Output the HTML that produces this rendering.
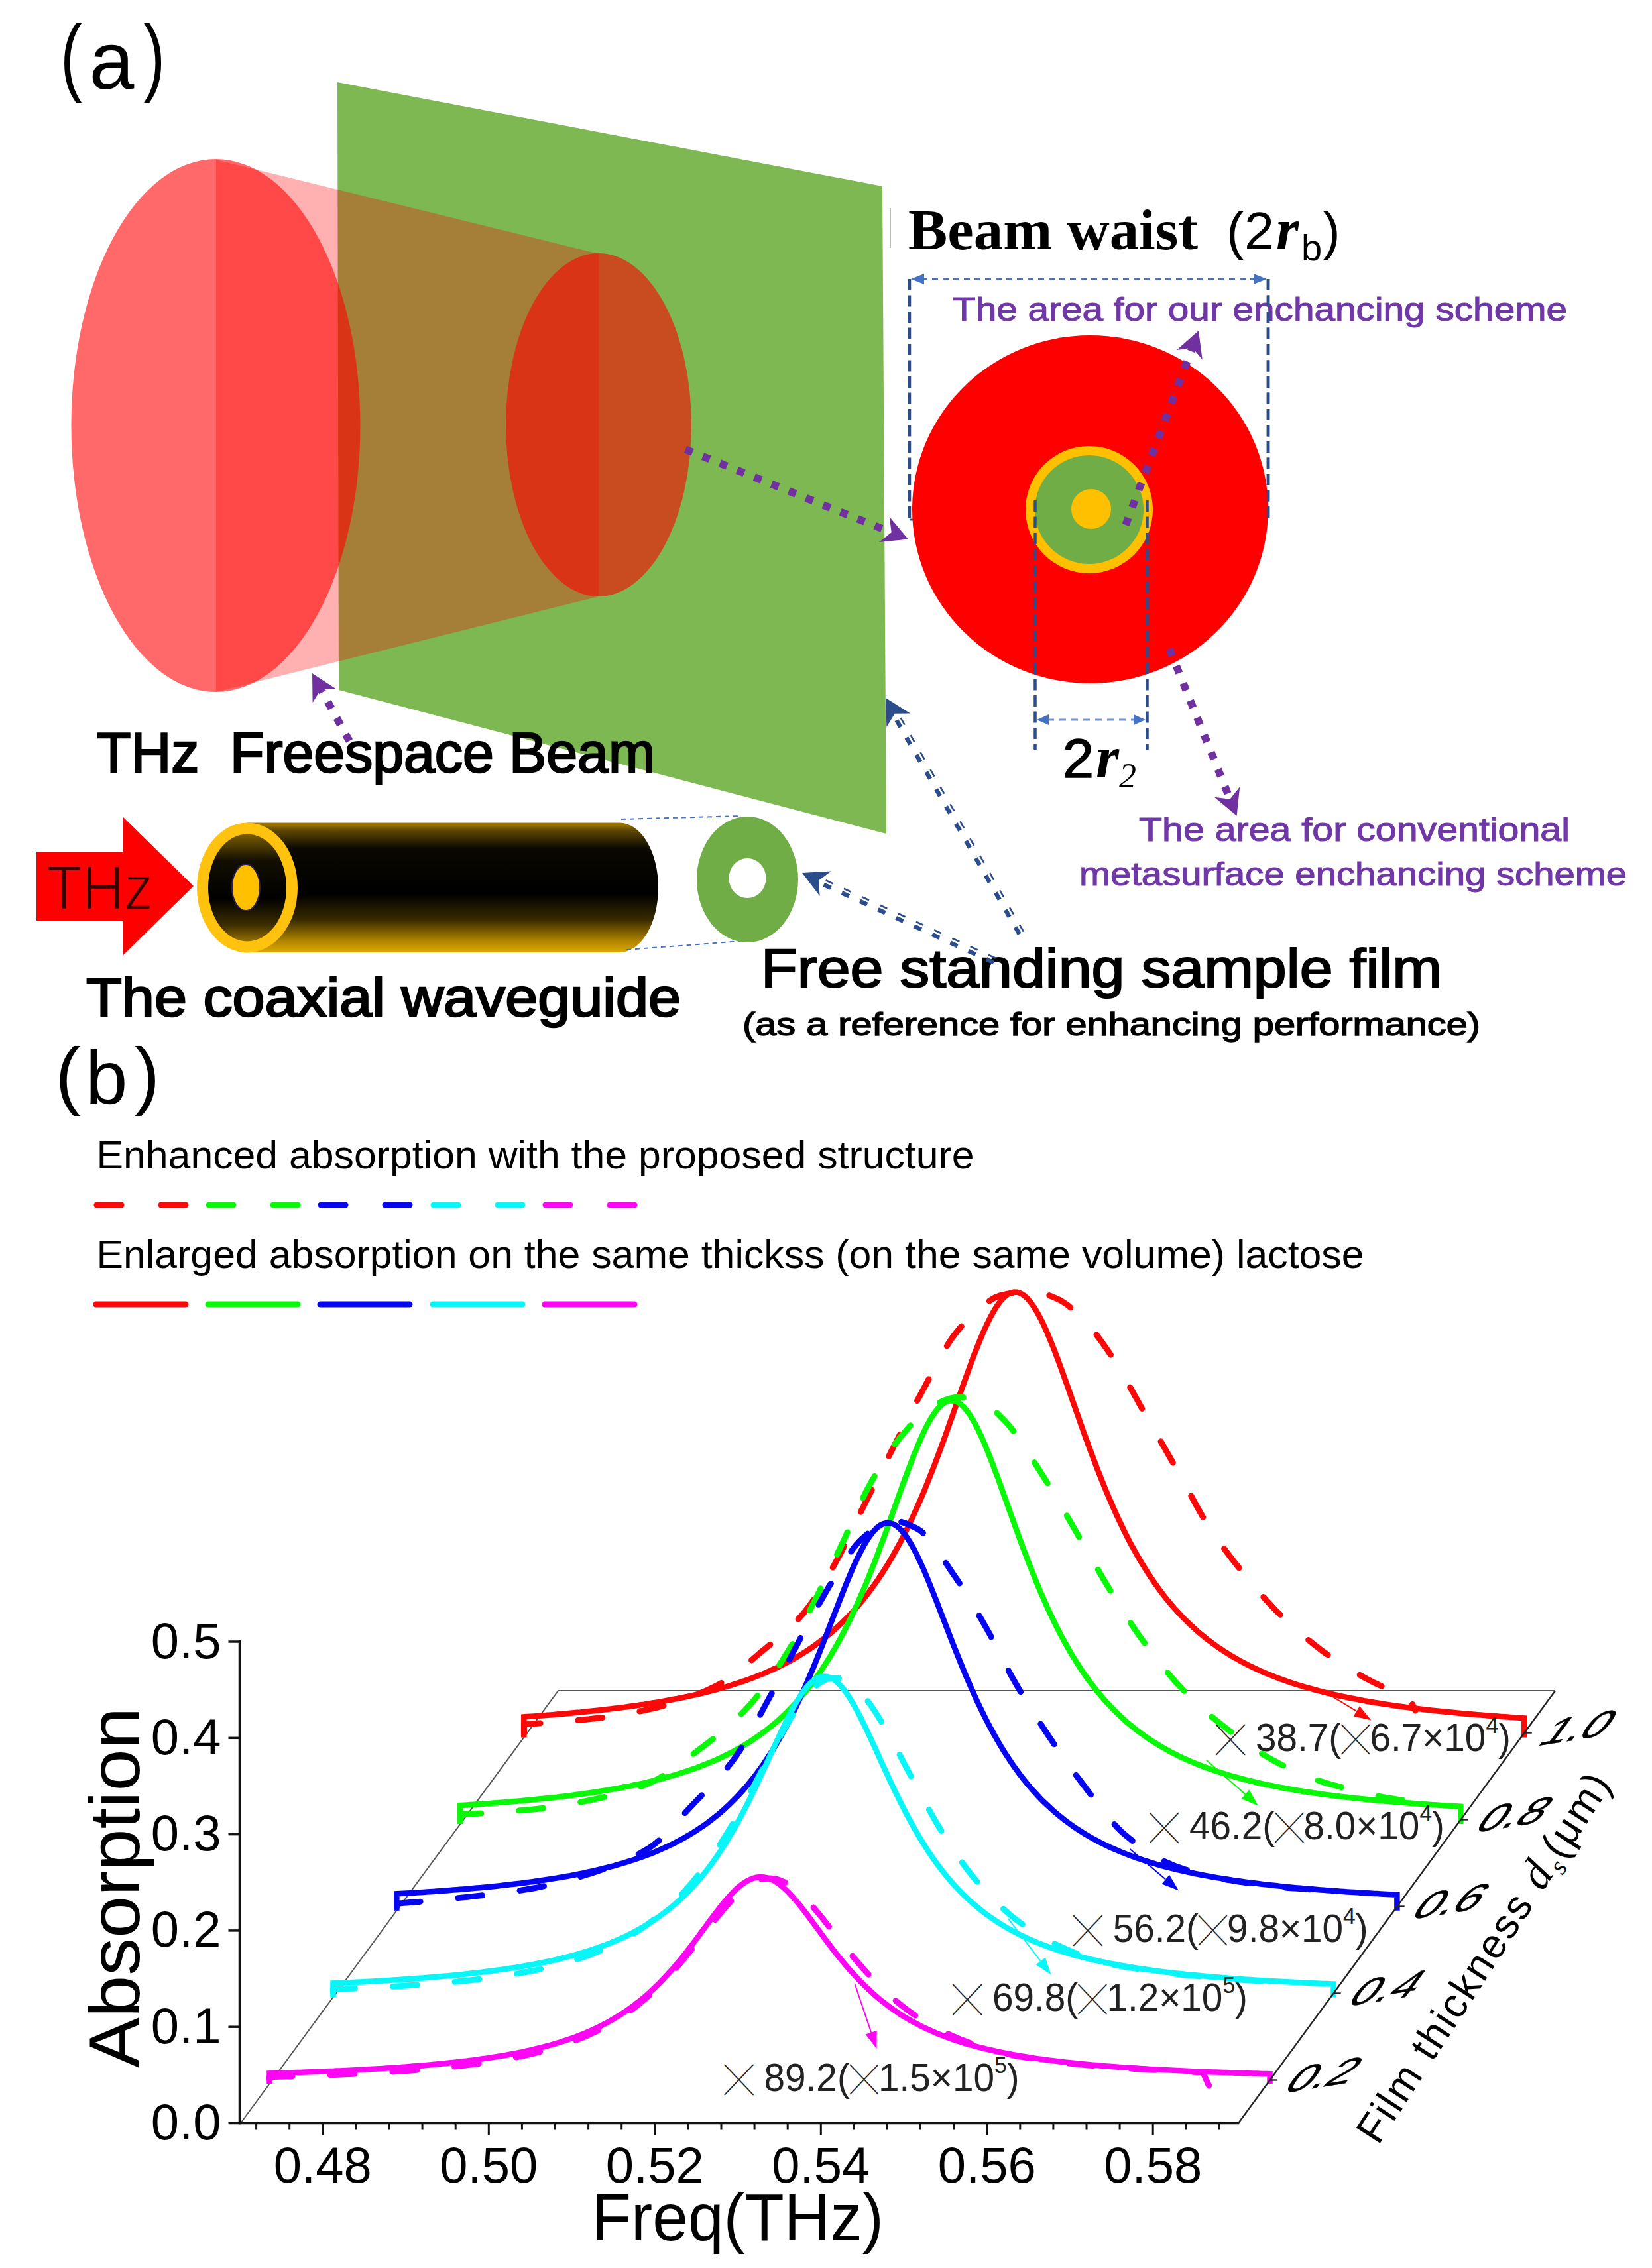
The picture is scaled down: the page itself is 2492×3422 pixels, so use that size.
<!DOCTYPE html>
<html><head><meta charset="utf-8"><title>Figure</title>
<style>html,body{margin:0;padding:0;background:#fff}svg{display:block}</style></head>
<body>
<svg width="2492" height="3422" viewBox="0 0 2492 3422">
<rect width="2492" height="3422" fill="#fff"/>
<defs>
<linearGradient id="cyl" x1="0" y1="0" x2="0" y2="1"><stop offset="0" stop-color="#a88000"/><stop offset="0.06" stop-color="#5e4700"/><stop offset="0.2" stop-color="#0a0800"/><stop offset="0.55" stop-color="#000"/><stop offset="0.75" stop-color="#3a2c00"/><stop offset="0.92" stop-color="#b48800"/><stop offset="1" stop-color="#dcaa00"/></linearGradient>
<linearGradient id="face" x1="0" y1="0" x2="0" y2="1"><stop offset="0" stop-color="#7a5e00"/><stop offset="0.25" stop-color="#120e00"/><stop offset="0.6" stop-color="#000"/><stop offset="0.85" stop-color="#3e2f00"/><stop offset="1" stop-color="#946f00"/></linearGradient>
</defs>
<g id="pa">
<polygon points="509,124 1331,281 1337,1258 511,1041" fill="#7db852"/>
<ellipse cx="325.5" cy="642" rx="218" ry="402" fill="#ff0000" fill-opacity="0.59"/>
<ellipse cx="903" cy="641" rx="140" ry="259" fill="#ff0000" fill-opacity="0.59"/>
<polygon points="326,241 903,383 903,900 326,1044" fill="#ff0000" fill-opacity="0.31"/>
<text transform="translate(91,128) scale(0.86,1.13)" font-size="114" font-family="Liberation Sans, Arial, sans-serif" fill="#000">(</text>
<text x="134.5" y="134" font-size="122" font-family="Liberation Sans, Arial, sans-serif" fill="#000" >a</text>
<text transform="translate(216.5,128) scale(0.86,1.13)" font-size="114" font-family="Liberation Sans, Arial, sans-serif" fill="#000">)</text>
<line x1="1343" y1="314" x2="1343" y2="374" stroke="#bbb" stroke-width="2"/>
<text x="1370" y="375.5" font-size="87" font-family="Liberation Serif, Times New Roman, serif" fill="#000" textLength="437" lengthAdjust="spacingAndGlyphs" font-weight="bold">Beam waist</text>
<text x="1850" y="375.5" font-size="80" font-family="Liberation Sans, Arial, sans-serif" fill="#000" textLength="72" lengthAdjust="spacingAndGlyphs" >(2</text>
<text x="1925" y="375.5" font-size="88" font-family="Liberation Serif, Times New Roman, serif" fill="#000" font-weight="bold" font-style="italic">r</text>
<text x="1963" y="393" font-size="56" font-family="Liberation Sans, Arial, sans-serif" fill="#000" >b</text>
<text x="1995" y="375.5" font-size="80" font-family="Liberation Sans, Arial, sans-serif" fill="#000" >)</text>
<line x1="1372" y1="421" x2="1372" y2="784" stroke="#2b4d8c" stroke-width="4.5" stroke-dasharray="17 7.5"/>
<line x1="1913" y1="421" x2="1913" y2="784" stroke="#2b4d8c" stroke-width="4.5" stroke-dasharray="17 7.5"/>
<line x1="1372" y1="784" x2="1913" y2="784" stroke="#2b4d8c" stroke-width="3" stroke-dasharray="12 7"/>
<line x1="1390" y1="421" x2="1895" y2="421" stroke="#4472c4" stroke-width="2.5" stroke-dasharray="9 7"/>
<polygon points="1374,421 1394,413 1394,429" fill="#4472c4"/>
<polygon points="1911,421 1891,413 1891,429" fill="#4472c4"/>
<text x="1437" y="484" font-size="50" font-family="Liberation Sans, Arial, sans-serif" fill="#7038a6" textLength="927" lengthAdjust="spacingAndGlyphs" stroke="#7038a6" stroke-width="1.1">The area for our enchancing scheme</text>
<ellipse cx="1644.5" cy="768.5" rx="268.5" ry="262.5" fill="#ff0000"/>
<circle cx="1643" cy="769" r="96" fill="#ffc000"/>
<circle cx="1643" cy="769" r="82" fill="#70ad47"/>
<circle cx="1646" cy="768" r="30" fill="#ffc000"/>
<line x1="1913" y1="421" x2="1913" y2="784" stroke="#2b4d8c" stroke-width="4.5" stroke-dasharray="17 7.5"/>
<line x1="1561.5" y1="755" x2="1561.5" y2="1131" stroke="#2b4d8c" stroke-width="4.5" stroke-dasharray="17 7.5"/>
<line x1="1730.5" y1="755" x2="1730.5" y2="1131" stroke="#2b4d8c" stroke-width="4.5" stroke-dasharray="17 7.5"/>
<line x1="1580" y1="1086" x2="1712" y2="1086" stroke="#4472c4" stroke-width="3" stroke-dasharray="10 8" stroke-opacity="0.75"/>
<polygon points="1564,1086 1582,1078 1582,1094" fill="#4472c4"/>
<polygon points="1728,1086 1710,1078 1710,1094" fill="#4472c4"/>
<line x1="1034.0" y1="678.0" x2="1349.6" y2="805.3" stroke="#7030a0" stroke-width="11.5" stroke-dasharray="11.5 16.5"/>
<path d="M1326.2,818.1 L1370.0,813.5 L1341.7,779.8 L1344.7,803.3 Z" fill="#7030a0"/>
<line x1="1698.0" y1="792.0" x2="1800.3" y2="519.6" stroke="#7030a0" stroke-width="11.5" stroke-dasharray="11.5 16.5"/>
<path d="M1813.7,542.6 L1808.0,499.0 L1775.0,528.1 L1798.4,524.5 Z" fill="#7030a0"/>
<line x1="1764.0" y1="979.0" x2="1857.4" y2="1210.6" stroke="#7030a0" stroke-width="11.5" stroke-dasharray="11.5 16.5"/>
<path d="M1831.9,1202.7 L1865.6,1231.0 L1870.2,1187.2 L1855.4,1205.7 Z" fill="#7030a0"/>
<line x1="527.0" y1="1118.0" x2="481.6" y2="1035.3" stroke="#7030a0" stroke-width="11.5" stroke-dasharray="11.5 16.5"/>
<path d="M507.8,1040.1 L471.0,1016.0 L471.6,1060.0 L484.1,1039.9 Z" fill="#7030a0"/>
<text x="1603" y="1173" font-size="84" font-family="Liberation Sans, Arial, sans-serif" fill="#000" textLength="47" lengthAdjust="spacingAndGlyphs" stroke="#000" stroke-width="1.6">2</text>
<text x="1653" y="1173" font-size="90" font-family="Liberation Serif, Times New Roman, serif" fill="#000" font-weight="bold" font-style="italic">r</text>
<text x="1688" y="1187.6" font-size="52" font-family="Liberation Serif, Times New Roman, serif" fill="#000" font-style="italic">2</text>
<text x="1718" y="1269" font-size="50" font-family="Liberation Sans, Arial, sans-serif" fill="#7038a6" textLength="650" lengthAdjust="spacingAndGlyphs" stroke="#7038a6" stroke-width="1.1">The area for conventional</text>
<text x="1628" y="1336" font-size="50" font-family="Liberation Sans, Arial, sans-serif" fill="#7038a6" textLength="826" lengthAdjust="spacingAndGlyphs" stroke="#7038a6" stroke-width="1.1">metasurface enchancing scheme</text>
<text x="146" y="1165" font-size="86" font-family="Liberation Sans, Arial, sans-serif" fill="#000" textLength="842" lengthAdjust="spacingAndGlyphs" stroke="#000" stroke-width="2.6">THz&#160; Freespace Beam</text>
<polygon points="55,1285 186,1285 186,1233 292,1337 186,1441 186,1389 55,1389" fill="#ff0000"/>
<text x="70" y="1371.5" font-size="95" font-family="Liberation Sans, Arial, sans-serif" fill="#380000" textLength="161" lengthAdjust="spacingAndGlyphs" stroke="#ff0000" stroke-width="2.4">THz</text>
<path d="M373,1241.5 L935,1241.5 A58,97.75 0 0 1 935,1437 L373,1437 Z" fill="url(#cyl)"/>
<ellipse cx="373" cy="1339.4" rx="76" ry="98" fill="#ffc20e"/>
<ellipse cx="373" cy="1339.4" rx="59" ry="81" fill="url(#face)"/>
<ellipse cx="371" cy="1339" rx="21" ry="35" fill="#ffc000" stroke="#2a2060" stroke-width="2"/>
<line x1="937" y1="1236" x2="1118" y2="1231" stroke="#4472c4" stroke-width="2" stroke-dasharray="7 6"/>
<line x1="945" y1="1433" x2="1118" y2="1420" stroke="#4472c4" stroke-width="2" stroke-dasharray="7 6"/>
<path fill-rule="evenodd" fill="#70ad47" d="M1051,1327 a76.5,95 0 1 0 153,0 a76.5,95 0 1 0 -153,0 Z M1099.5,1325 a28,30 0 1 0 56,0 a28,30 0 1 0 -56,0 Z"/>
<text x="130" y="1532.5" font-size="82" font-family="Liberation Sans, Arial, sans-serif" fill="#000" textLength="897" lengthAdjust="spacingAndGlyphs" stroke="#000" stroke-width="2.6">The coaxial waveguide</text>
<text x="1148" y="1489" font-size="82" font-family="Liberation Sans, Arial, sans-serif" fill="#000" textLength="1027" lengthAdjust="spacingAndGlyphs" stroke="#000" stroke-width="2.2">Free standing sample film</text>
<text x="1120" y="1561.6" font-size="49" font-family="Liberation Sans, Arial, sans-serif" fill="#000" textLength="1113" lengthAdjust="spacingAndGlyphs" stroke="#000" stroke-width="1.5">(as a reference for enhancing performance)</text>
<line x1="1537.7" y1="1409.3" x2="1344.7" y2="1073.4" stroke="#2b4d8c" stroke-width="6.5" stroke-dasharray="12 18"/>
<line x1="1544.0" y1="1405.7" x2="1350.9" y2="1069.8" stroke="#2b4d8c" stroke-width="2.6" stroke-dasharray="12 18"/>
<path d="M1373.3,1076.4 L1336.0,1053.0 L1337.4,1097.0 L1349.6,1076.7 Z" fill="#2b4d8c"/>
<line x1="1498.9" y1="1452.4" x2="1228.9" y2="1328.5" stroke="#2b4d8c" stroke-width="6.5" stroke-dasharray="12 18"/>
<line x1="1501.9" y1="1445.8" x2="1231.9" y2="1322.0" stroke="#2b4d8c" stroke-width="2.6" stroke-dasharray="12 18"/>
<path d="M1253.9,1314.4 L1210.0,1317.0 L1236.7,1352.0 L1234.8,1328.4 Z" fill="#2b4d8c"/>
</g>
<g id="pb">
<text x="83.5" y="1660" font-size="114" font-family="Liberation Sans, Arial, sans-serif" fill="#000" >(</text>
<text x="129" y="1664.5" font-size="114" font-family="Liberation Sans, Arial, sans-serif" fill="#000" >b</text>
<text x="203" y="1660" font-size="114" font-family="Liberation Sans, Arial, sans-serif" fill="#000" >)</text>
<text x="145.5" y="1763" font-size="60" font-family="Liberation Sans, Arial, sans-serif" fill="#000" textLength="1324" lengthAdjust="spacingAndGlyphs" >Enhanced absorption with the proposed structure</text>
<text x="145.5" y="1913" font-size="60" font-family="Liberation Sans, Arial, sans-serif" fill="#000" textLength="1912" lengthAdjust="spacingAndGlyphs" >Enlarged absorption on the same thickss (on the same volume) lactose</text>
<line x1="146" y1="1818" x2="282" y2="1818" stroke="#fd0808" stroke-width="9" stroke-linecap="round" stroke-dasharray="37 60"/>
<line x1="145" y1="1968" x2="280" y2="1968" stroke="#fd0808" stroke-width="9" stroke-linecap="round"/>
<line x1="315" y1="1818" x2="451" y2="1818" stroke="#08f808" stroke-width="9" stroke-linecap="round" stroke-dasharray="37 60"/>
<line x1="314" y1="1968" x2="449" y2="1968" stroke="#08f808" stroke-width="9" stroke-linecap="round"/>
<line x1="484" y1="1818" x2="620" y2="1818" stroke="#0505f2" stroke-width="9" stroke-linecap="round" stroke-dasharray="37 60"/>
<line x1="483" y1="1968" x2="618" y2="1968" stroke="#0505f2" stroke-width="9" stroke-linecap="round"/>
<line x1="654" y1="1818" x2="790" y2="1818" stroke="#08f6f8" stroke-width="9" stroke-linecap="round" stroke-dasharray="37 60"/>
<line x1="653" y1="1968" x2="788" y2="1968" stroke="#08f6f8" stroke-width="9" stroke-linecap="round"/>
<line x1="823" y1="1818" x2="959" y2="1818" stroke="#fc06f4" stroke-width="9" stroke-linecap="round" stroke-dasharray="37 60"/>
<line x1="822" y1="1968" x2="957" y2="1968" stroke="#fc06f4" stroke-width="9" stroke-linecap="round"/>
<polyline points="364.0,3202.0 842.0,2551.0 2345.0,2551.0" fill="none" stroke="#555" stroke-width="2"/>
<polyline fill="none" stroke="#fd0808" stroke-width="9" stroke-linecap="round" stroke-linejoin="round" stroke-dasharray="37 57" stroke-dashoffset="-8" points="790.3,2621.4 790.5,2601.0 794.9,2600.9 799.4,2600.7 803.8,2600.6 808.3,2600.4 812.7,2600.1 817.2,2599.9 821.6,2599.6 826.1,2599.3 830.5,2599.0 835.0,2598.7 839.4,2598.4 843.9,2598.0 848.3,2597.6 852.8,2597.3 857.2,2596.9 861.7,2596.4 866.1,2596.0 870.6,2595.6 875.0,2595.1 879.5,2594.7 883.9,2594.2 888.4,2593.8 892.8,2593.3 897.3,2592.8 901.7,2592.3 906.2,2591.8 910.6,2591.2 915.1,2590.6 919.5,2590.0 924.0,2589.3 928.4,2588.7 932.8,2588.0 937.3,2587.2 941.7,2586.4 946.2,2585.7 950.6,2584.8 955.1,2584.0 959.5,2583.1 964.0,2582.2 968.4,2581.3 972.9,2580.3 977.3,2579.4 981.8,2578.4 986.2,2577.3 990.7,2576.3 995.1,2575.2 999.6,2574.0 1004.0,2572.8 1008.5,2571.6 1012.9,2570.3 1017.4,2568.9 1021.8,2567.5 1026.3,2566.1 1030.7,2564.5 1035.2,2563.0 1039.6,2561.3 1044.1,2559.6 1048.5,2557.9 1053.0,2556.1 1057.4,2554.2 1061.8,2552.3 1066.3,2550.3 1070.7,2548.3 1075.2,2546.2 1079.6,2544.0 1084.1,2541.7 1088.5,2539.2 1093.0,2536.4 1097.4,2533.5 1101.9,2530.3 1106.3,2527.1 1110.8,2523.7 1115.2,2520.2 1119.7,2516.5 1124.1,2512.9 1128.6,2509.1 1133.0,2505.4 1137.5,2501.6 1141.9,2497.8 1146.4,2494.0 1150.8,2490.3 1155.3,2486.7 1159.7,2483.0 1164.2,2479.4 1168.6,2475.7 1173.1,2472.0 1177.5,2468.2 1182.0,2464.4 1186.4,2460.4 1190.8,2456.3 1195.3,2452.0 1199.7,2447.5 1204.2,2442.9 1208.6,2438.0 1213.1,2432.9 1217.5,2427.4 1222.0,2421.4 1226.4,2415.0 1230.9,2408.2 1235.3,2401.1 1239.8,2393.7 1244.2,2386.1 1248.7,2378.4 1253.1,2370.6 1257.6,2362.7 1262.0,2354.7 1266.5,2346.4 1270.9,2337.7 1275.4,2328.8 1279.8,2319.7 1284.3,2310.5 1288.7,2301.2 1293.2,2292.0 1297.6,2282.9 1302.1,2273.9 1306.5,2265.0 1311.0,2256.2 1315.4,2247.4 1319.9,2238.5 1324.3,2229.7 1328.7,2220.9 1333.2,2212.1 1337.6,2203.4 1342.1,2194.6 1346.5,2185.9 1351.0,2177.2 1355.4,2168.4 1359.9,2159.7 1364.3,2150.9 1368.8,2142.2 1373.2,2133.5 1377.7,2124.9 1382.1,2116.3 1386.6,2107.9 1391.0,2099.5 1395.5,2091.3 1399.9,2082.9 1404.4,2074.4 1408.8,2066.0 1413.3,2057.5 1417.7,2049.3 1422.2,2041.3 1426.6,2033.6 1431.1,2026.4 1435.5,2019.8 1440.0,2013.8 1444.4,2008.1 1448.9,2002.7 1453.3,1997.6 1457.8,1992.7 1462.2,1988.1 1466.6,1983.8 1471.1,1979.7 1475.5,1976.0 1480.0,1972.4 1484.4,1968.9 1488.9,1965.5 1493.3,1962.3 1497.8,1959.4 1502.2,1957.1 1506.7,1955.4 1511.1,1954.2 1515.6,1953.2 1520.0,1952.2 1524.5,1951.3 1528.9,1950.4 1533.4,1949.7 1537.8,1949.1 1542.3,1948.6 1546.7,1948.3 1551.2,1948.1 1555.6,1948.0 1560.1,1948.3 1564.5,1948.9 1569.0,1949.9 1573.4,1951.2 1577.9,1952.7 1582.3,1954.4 1586.8,1956.2 1591.2,1958.2 1595.6,1960.1 1600.1,1962.3 1604.5,1965.0 1609.0,1968.1 1613.4,1971.6 1617.9,1975.5 1622.3,1979.6 1626.8,1983.9 1631.2,1988.2 1635.7,1992.7 1640.1,1997.4 1644.6,2002.4 1649.0,2007.8 1653.5,2013.4 1657.9,2019.3 1662.4,2025.4 1666.8,2031.6 1671.3,2037.9 1675.7,2044.5 1680.2,2051.3 1684.6,2058.5 1689.1,2065.8 1693.5,2073.4 1698.0,2081.1 1702.4,2089.0 1706.9,2097.0 1711.3,2104.9 1715.8,2112.9 1720.2,2120.9 1724.7,2128.8 1729.1,2136.5 1733.5,2144.2 1738.0,2152.0 1742.4,2159.7 1746.9,2167.5 1751.3,2175.3 1755.8,2183.1 1760.2,2190.9 1764.7,2198.8 1769.1,2206.6 1773.6,2214.5 1778.0,2222.4 1782.5,2230.4 1786.9,2238.6 1791.4,2246.9 1795.8,2255.2 1800.3,2263.5 1804.7,2271.6 1809.2,2279.6 1813.6,2287.3 1818.1,2294.7 1822.5,2301.8 1827.0,2308.6 1831.4,2315.2 1835.9,2321.6 1840.3,2327.9 1844.8,2334.1 1849.2,2340.1 1853.7,2346.0 1858.1,2351.8 1862.5,2357.5 1867.0,2363.1 1871.4,2368.6 1875.9,2374.1 1880.3,2379.5 1884.8,2384.9 1889.2,2390.3 1893.7,2395.5 1898.1,2400.7 1902.6,2405.8 1907.0,2410.9 1911.5,2415.8 1915.9,2420.6 1920.4,2425.4 1924.8,2430.0 1929.3,2434.4 1933.7,2438.8 1938.2,2443.0 1942.6,2447.2 1947.1,2451.3 1951.5,2455.3 1956.0,2459.3 1960.4,2463.2 1964.9,2467.0 1969.3,2470.8 1973.8,2474.5 1978.2,2478.1 1982.7,2481.6 1987.1,2485.1 1991.5,2488.5 1996.0,2491.8 2000.4,2495.0 2004.9,2498.1 2009.3,2501.2 2013.8,2504.2 2018.2,2507.1 2022.7,2509.9 2027.1,2512.8 2031.6,2515.6 2036.0,2518.3 2040.5,2521.0 2044.9,2523.7 2049.4,2526.3 2053.8,2528.8 2058.3,2531.2 2062.7,2533.6 2067.2,2536.0 2071.6,2538.2 2076.1,2540.4 2080.5,2542.5 2085.0,2544.6 2089.4,2546.5 2093.9,2548.4 2098.3,2550.1 2102.8,2551.8 2107.2,2553.4 2111.7,2554.9 2116.1,2556.3 2120.6,2557.7 2125.0,2559.0 2135.0,2581.0"/>
<polyline fill="none" stroke="#fd0808" stroke-width="8.5" stroke-linejoin="miter" points="790.3,2621.4 790.3,2590.5 795.3,2590.1 800.3,2589.7 805.4,2589.4 810.4,2589.0 815.4,2588.6 820.5,2588.2 825.5,2587.8 830.5,2587.4 835.6,2587.0 840.6,2586.6 845.6,2586.1 850.6,2585.7 855.7,2585.3 860.7,2584.8 865.7,2584.3 870.8,2583.8 875.8,2583.4 880.8,2582.8 885.9,2582.3 890.9,2581.8 895.9,2581.3 900.9,2580.7 906.0,2580.2 911.0,2579.6 916.0,2579.0 921.1,2578.4 926.1,2577.8 931.1,2577.2 936.2,2576.5 941.2,2575.9 946.2,2575.2 951.2,2574.5 956.3,2573.8 961.3,2573.1 966.3,2572.3 971.4,2571.6 976.4,2570.8 981.4,2570.0 986.5,2569.2 991.5,2568.4 996.5,2567.5 1001.5,2566.6 1006.6,2565.7 1011.6,2564.8 1016.6,2563.8 1021.7,2562.9 1026.7,2561.9 1031.7,2560.8 1036.8,2559.8 1041.8,2558.7 1046.8,2557.6 1051.8,2556.4 1056.9,2555.2 1061.9,2554.0 1066.9,2552.8 1072.0,2551.5 1077.0,2550.2 1082.0,2548.8 1087.1,2547.4 1092.1,2546.0 1097.1,2544.5 1102.1,2543.0 1107.2,2541.4 1112.2,2539.8 1117.2,2538.1 1122.3,2536.4 1127.3,2534.6 1132.3,2532.8 1137.4,2530.9 1142.4,2528.9 1147.4,2526.9 1152.4,2524.8 1157.5,2522.7 1162.5,2520.4 1167.5,2518.1 1172.6,2515.8 1177.6,2513.3 1182.6,2510.8 1187.7,2508.1 1192.7,2505.4 1197.7,2502.6 1202.7,2499.7 1207.8,2496.6 1212.8,2493.5 1217.8,2490.3 1222.9,2486.9 1227.9,2483.4 1232.9,2479.8 1238.0,2476.0 1243.0,2472.1 1248.0,2468.1 1253.0,2463.9 1258.1,2459.5 1263.1,2455.0 1268.1,2450.3 1273.2,2445.4 1278.2,2440.4 1283.2,2435.1 1288.3,2429.6 1293.3,2423.9 1298.3,2418.0 1303.3,2411.8 1308.4,2405.4 1313.4,2398.8 1318.4,2391.8 1323.5,2384.6 1328.5,2377.1 1333.5,2369.4 1338.6,2361.3 1343.6,2352.9 1348.6,2344.1 1353.6,2335.1 1358.7,2325.7 1363.7,2315.9 1368.7,2305.8 1373.8,2295.3 1378.8,2284.5 1383.8,2273.3 1388.9,2261.7 1393.9,2249.8 1398.9,2237.5 1403.9,2224.9 1409.0,2212.0 1414.0,2198.7 1419.0,2185.2 1424.1,2171.4 1429.1,2157.4 1434.1,2143.2 1439.2,2128.9 1444.2,2114.6 1449.2,2100.2 1454.2,2086.0 1459.3,2071.9 1464.3,2058.1 1469.3,2044.6 1474.4,2031.6 1479.4,2019.2 1484.4,2007.4 1489.5,1996.5 1494.5,1986.4 1499.5,1977.4 1504.5,1969.5 1509.6,1962.8 1514.6,1957.4 1519.6,1953.3 1524.7,1950.7 1529.7,1949.5 1534.7,1949.8 1539.8,1951.5 1544.8,1954.7 1549.8,1959.2 1554.8,1965.1 1559.9,1972.3 1564.9,1980.6 1569.9,1990.0 1575.0,2000.4 1580.0,2011.6 1585.0,2023.7 1590.1,2036.3 1595.1,2049.5 1600.1,2063.1 1605.1,2077.0 1610.2,2091.2 1615.2,2105.5 1620.2,2119.8 1625.3,2134.2 1630.3,2148.4 1635.3,2162.6 1640.4,2176.5 1645.4,2190.2 1650.4,2203.6 1655.4,2216.8 1660.5,2229.6 1665.5,2242.1 1670.5,2254.3 1675.6,2266.0 1680.6,2277.5 1685.6,2288.5 1690.7,2299.2 1695.7,2309.6 1700.7,2319.6 1705.7,2329.2 1710.8,2338.5 1715.8,2347.4 1720.8,2356.0 1725.9,2364.3 1730.9,2372.3 1735.9,2379.9 1741.0,2387.3 1746.0,2394.4 1751.0,2401.2 1756.0,2407.8 1761.1,2414.1 1766.1,2420.2 1771.1,2426.0 1776.2,2431.6 1781.2,2437.1 1786.2,2442.3 1791.3,2447.3 1796.3,2452.1 1801.3,2456.7 1806.3,2461.2 1811.4,2465.5 1816.4,2469.6 1821.4,2473.6 1826.5,2477.4 1831.5,2481.1 1836.5,2484.7 1841.6,2488.1 1846.6,2491.5 1851.6,2494.7 1856.6,2497.8 1861.7,2500.7 1866.7,2503.6 1871.7,2506.4 1876.8,2509.1 1881.8,2511.7 1886.8,2514.2 1891.9,2516.6 1896.9,2519.0 1901.9,2521.3 1906.9,2523.5 1912.0,2525.6 1917.0,2527.6 1922.0,2529.6 1927.1,2531.6 1932.1,2533.4 1937.1,2535.3 1942.2,2537.0 1947.2,2538.7 1952.2,2540.4 1957.2,2542.0 1962.3,2543.5 1967.3,2545.1 1972.3,2546.5 1977.4,2547.9 1982.4,2549.3 1987.4,2550.7 1992.5,2552.0 1997.5,2553.3 2002.5,2554.5 2007.5,2555.7 2012.6,2556.9 2017.6,2558.0 2022.6,2559.1 2027.7,2560.2 2032.7,2561.2 2037.7,2562.2 2042.8,2563.2 2047.8,2564.2 2052.8,2565.1 2057.8,2566.1 2062.9,2567.0 2067.9,2567.8 2072.9,2568.7 2078.0,2569.5 2083.0,2570.3 2088.0,2571.1 2093.1,2571.9 2098.1,2572.6 2103.1,2573.4 2108.1,2574.1 2113.2,2574.8 2118.2,2575.5 2123.2,2576.1 2128.3,2576.8 2133.3,2577.4 2138.3,2578.0 2143.4,2578.6 2148.4,2579.2 2153.4,2579.8 2158.4,2580.4 2163.5,2580.9 2168.5,2581.5 2173.5,2582.0 2178.6,2582.5 2183.6,2583.0 2188.6,2583.5 2193.7,2584.0 2198.7,2584.5 2203.7,2585.0 2208.7,2585.4 2213.8,2585.9 2218.8,2586.3 2223.8,2586.7 2228.9,2587.2 2233.9,2587.6 2238.9,2588.0 2244.0,2588.4 2249.0,2588.8 2254.0,2589.1 2259.0,2589.5 2264.1,2589.9 2269.1,2590.2 2274.1,2590.6 2279.2,2590.9 2284.2,2591.3 2289.2,2591.6 2294.3,2591.9 2299.3,2592.3 2299.3,2621.4"/>
<polyline fill="none" stroke="#08f808" stroke-width="9" stroke-linecap="round" stroke-linejoin="round" stroke-dasharray="37 57" stroke-dashoffset="-8" points="694.3,2752.1 696.0,2737.0 700.8,2736.9 705.6,2736.8 710.4,2736.7 715.2,2736.5 720.0,2736.3 724.8,2736.1 729.6,2735.9 734.4,2735.6 739.2,2735.3 744.0,2735.0 748.8,2734.7 753.6,2734.3 758.4,2734.0 763.2,2733.6 768.0,2733.2 772.8,2732.8 777.6,2732.4 782.4,2732.0 787.2,2731.5 792.0,2731.1 796.8,2730.6 801.6,2730.2 806.4,2729.7 811.2,2729.2 816.0,2728.7 820.8,2728.1 825.6,2727.5 830.4,2726.8 835.2,2726.1 840.0,2725.4 844.8,2724.6 849.6,2723.8 854.4,2723.0 859.2,2722.2 864.0,2721.3 868.8,2720.4 873.6,2719.5 878.4,2718.5 883.2,2717.6 888.0,2716.6 892.8,2715.6 897.6,2714.6 902.4,2713.5 907.2,2712.5 912.0,2711.4 916.8,2710.2 921.6,2709.1 926.4,2707.8 931.2,2706.6 936.0,2705.3 940.8,2703.9 945.6,2702.5 950.4,2701.0 955.2,2699.4 960.0,2697.8 964.8,2696.1 969.6,2694.3 974.4,2692.4 979.2,2690.5 984.0,2688.4 988.8,2686.0 993.6,2683.4 998.4,2680.5 1003.2,2677.6 1008.0,2674.4 1012.8,2671.1 1017.6,2667.7 1022.4,2664.2 1027.2,2660.7 1032.0,2657.0 1036.8,2653.4 1041.6,2649.7 1046.4,2646.0 1051.2,2642.4 1056.0,2638.7 1060.8,2635.1 1065.6,2631.4 1070.4,2627.7 1075.2,2624.0 1080.0,2620.2 1084.8,2616.3 1089.6,2612.3 1094.4,2608.2 1099.2,2604.0 1104.0,2599.7 1108.8,2595.2 1113.6,2590.6 1118.4,2585.9 1123.2,2581.0 1128.0,2575.8 1132.8,2570.5 1137.6,2564.8 1142.4,2558.9 1147.2,2552.8 1152.0,2546.4 1156.8,2539.8 1161.6,2533.0 1166.4,2526.0 1171.2,2518.9 1176.0,2511.5 1180.8,2504.1 1185.6,2496.5 1190.4,2488.7 1195.2,2480.5 1200.0,2471.9 1204.8,2463.0 1209.6,2453.7 1214.4,2444.3 1219.2,2434.7 1224.0,2425.1 1228.8,2415.6 1233.6,2406.0 1238.4,2396.2 1243.2,2386.4 1248.0,2376.4 1252.8,2366.3 1257.6,2356.2 1262.4,2346.1 1267.2,2335.9 1272.0,2325.7 1276.8,2315.2 1281.6,2304.5 1286.4,2293.7 1291.2,2282.8 1296.0,2272.2 1300.8,2262.0 1305.6,2252.2 1310.4,2243.1 1315.2,2234.5 1320.0,2226.1 1324.8,2217.9 1329.6,2210.0 1334.4,2202.3 1339.2,2194.9 1344.0,2187.8 1348.8,2181.0 1353.6,2174.5 1358.4,2168.4 1363.2,2162.6 1368.0,2156.9 1372.8,2151.2 1377.6,2145.7 1382.4,2140.4 1387.2,2135.5 1392.0,2131.1 1396.8,2127.1 1401.6,2123.9 1406.4,2121.3 1411.2,2118.9 1416.0,2116.7 1420.8,2114.5 1425.6,2112.5 1430.4,2110.9 1435.2,2109.5 1440.0,2108.6 1444.8,2108.1 1449.6,2108.1 1454.4,2108.5 1459.2,2109.2 1464.0,2110.3 1468.8,2111.6 1473.6,2113.1 1478.4,2114.7 1483.2,2116.5 1488.0,2118.9 1492.8,2122.2 1497.6,2126.1 1502.4,2130.4 1507.2,2135.1 1512.0,2140.0 1516.8,2144.9 1521.6,2150.3 1526.4,2156.2 1531.2,2162.5 1536.0,2169.1 1540.8,2176.0 1545.6,2183.2 1550.4,2190.6 1555.2,2198.1 1560.0,2205.8 1564.8,2213.5 1569.6,2221.1 1574.4,2228.7 1579.2,2236.2 1584.0,2244.0 1588.8,2251.8 1593.6,2259.9 1598.4,2268.0 1603.2,2276.3 1608.0,2284.6 1612.8,2292.9 1617.6,2301.3 1622.4,2309.6 1627.2,2317.9 1632.0,2326.1 1636.8,2334.4 1641.6,2342.8 1646.4,2351.1 1651.2,2359.5 1656.0,2367.9 1660.8,2376.2 1665.6,2384.4 1670.4,2392.4 1675.2,2400.3 1680.0,2408.1 1684.8,2415.9 1689.6,2423.7 1694.4,2431.4 1699.2,2438.9 1704.0,2446.4 1708.8,2453.7 1713.6,2460.8 1718.4,2467.7 1723.2,2474.3 1728.0,2480.9 1732.8,2487.4 1737.6,2493.8 1742.4,2500.1 1747.2,2506.2 1752.0,2512.3 1756.8,2518.2 1761.6,2524.0 1766.4,2529.7 1771.2,2535.2 1776.0,2540.5 1780.8,2545.7 1785.6,2550.7 1790.4,2555.6 1795.2,2560.4 1800.0,2565.0 1804.8,2569.6 1809.6,2574.1 1814.4,2578.4 1819.2,2582.7 1824.0,2586.8 1828.8,2590.9 1833.6,2594.9 1838.4,2598.7 1843.2,2602.5 1848.0,2606.3 1852.8,2610.0 1857.6,2613.6 1862.4,2617.2 1867.2,2620.8 1872.0,2624.3 1876.8,2627.8 1881.6,2631.2 1886.4,2634.6 1891.2,2637.8 1896.0,2641.0 1900.8,2644.1 1905.6,2647.2 1910.4,2650.1 1915.2,2652.9 1920.0,2655.7 1924.8,2658.3 1929.6,2660.8 1934.4,2663.2 1939.2,2665.6 1944.0,2667.9 1948.8,2670.2 1953.6,2672.4 1958.4,2674.6 1963.2,2676.7 1968.0,2678.7 1972.8,2680.7 1977.6,2682.5 1982.4,2684.3 1987.2,2686.0 1992.0,2687.6 1996.8,2689.1 2001.6,2690.5 2006.4,2691.8 2011.2,2693.2 2016.0,2694.5 2020.8,2695.8 2025.6,2697.1 2030.4,2698.4 2035.2,2699.7 2040.0,2701.0 2044.8,2702.2 2049.6,2703.4 2054.4,2704.6 2059.2,2705.7 2064.0,2706.8 2068.8,2707.9 2073.6,2708.9 2078.4,2709.9 2083.2,2710.8 2088.0,2711.8 2092.8,2712.6 2097.6,2713.4 2102.4,2714.2 2107.2,2714.9 2112.0,2715.6 2116.8,2716.2 2121.6,2716.7 2126.4,2717.2 2131.2,2717.6 2136.0,2718.0 2146.0,2740.0"/>
<polyline fill="none" stroke="#08f808" stroke-width="8.5" stroke-linejoin="miter" points="694.3,2752.1 694.3,2724.0 699.4,2723.7 704.4,2723.4 709.4,2723.1 714.5,2722.7 719.5,2722.4 724.5,2722.1 729.6,2721.7 734.6,2721.3 739.6,2721.0 744.6,2720.6 749.7,2720.2 754.7,2719.8 759.7,2719.4 764.8,2719.0 769.8,2718.6 774.8,2718.1 779.9,2717.7 784.9,2717.2 789.9,2716.8 794.9,2716.3 800.0,2715.8 805.0,2715.3 810.0,2714.8 815.1,2714.3 820.1,2713.8 825.1,2713.3 830.2,2712.7 835.2,2712.2 840.2,2711.6 845.2,2711.0 850.3,2710.4 855.3,2709.8 860.3,2709.1 865.4,2708.5 870.4,2707.8 875.4,2707.1 880.5,2706.5 885.5,2705.7 890.5,2705.0 895.5,2704.3 900.6,2703.5 905.6,2702.7 910.6,2701.9 915.7,2701.0 920.7,2700.2 925.7,2699.3 930.8,2698.4 935.8,2697.5 940.8,2696.5 945.8,2695.6 950.9,2694.6 955.9,2693.5 960.9,2692.5 966.0,2691.4 971.0,2690.3 976.0,2689.1 981.1,2687.9 986.1,2686.7 991.1,2685.4 996.1,2684.1 1001.2,2682.8 1006.2,2681.4 1011.2,2680.0 1016.3,2678.5 1021.3,2677.0 1026.3,2675.5 1031.4,2673.8 1036.4,2672.2 1041.4,2670.5 1046.4,2668.7 1051.5,2666.9 1056.5,2665.0 1061.5,2663.0 1066.6,2661.0 1071.6,2658.9 1076.6,2656.8 1081.7,2654.6 1086.7,2652.3 1091.7,2649.9 1096.7,2647.4 1101.8,2644.8 1106.8,2642.2 1111.8,2639.4 1116.9,2636.6 1121.9,2633.6 1126.9,2630.5 1132.0,2627.4 1137.0,2624.1 1142.0,2620.6 1147.0,2617.1 1152.1,2613.4 1157.1,2609.5 1162.1,2605.5 1167.2,2601.4 1172.2,2597.1 1177.2,2592.6 1182.3,2587.9 1187.3,2583.1 1192.3,2578.0 1197.3,2572.7 1202.4,2567.3 1207.4,2561.6 1212.4,2555.6 1217.5,2549.5 1222.5,2543.0 1227.5,2536.3 1232.6,2529.4 1237.6,2522.1 1242.6,2514.5 1247.6,2506.7 1252.7,2498.5 1257.7,2490.0 1262.7,2481.2 1267.8,2472.0 1272.8,2462.4 1277.8,2452.5 1282.9,2442.2 1287.9,2431.6 1292.9,2420.6 1297.9,2409.2 1303.0,2397.4 1308.0,2385.3 1313.0,2372.9 1318.1,2360.1 1323.1,2347.0 1328.1,2333.6 1333.2,2320.0 1338.2,2306.2 1343.2,2292.2 1348.2,2278.1 1353.3,2264.0 1358.3,2249.9 1363.3,2236.0 1368.4,2222.3 1373.4,2208.9 1378.4,2195.9 1383.5,2183.5 1388.5,2171.7 1393.5,2160.7 1398.5,2150.5 1403.6,2141.4 1408.6,2133.4 1413.6,2126.6 1418.7,2121.2 1423.7,2117.1 1428.7,2114.4 1433.8,2113.2 1438.8,2113.4 1443.8,2115.2 1448.8,2118.4 1453.9,2123.0 1458.9,2129.0 1463.9,2136.2 1469.0,2144.7 1474.0,2154.2 1479.0,2164.6 1484.1,2175.9 1489.1,2188.0 1494.1,2200.6 1499.1,2213.7 1504.2,2227.3 1509.2,2241.1 1514.2,2255.1 1519.3,2269.2 1524.3,2283.3 1529.3,2297.3 1534.4,2311.3 1539.4,2325.0 1544.4,2338.6 1549.4,2351.8 1554.5,2364.8 1559.5,2377.5 1564.5,2389.8 1569.6,2401.8 1574.6,2413.4 1579.6,2424.7 1584.7,2435.5 1589.7,2446.1 1594.7,2456.2 1599.7,2466.0 1604.8,2475.4 1609.8,2484.4 1614.8,2493.2 1619.9,2501.6 1624.9,2509.6 1629.9,2517.4 1635.0,2524.8 1640.0,2532.0 1645.0,2538.8 1650.0,2545.4 1655.1,2551.8 1660.1,2557.8 1665.1,2563.7 1670.2,2569.3 1675.2,2574.7 1680.2,2579.9 1685.3,2584.9 1690.3,2589.7 1695.3,2594.3 1700.3,2598.7 1705.4,2602.9 1710.4,2607.0 1715.4,2611.0 1720.5,2614.7 1725.5,2618.4 1730.5,2621.9 1735.6,2625.3 1740.6,2628.5 1745.6,2631.7 1750.6,2634.7 1755.7,2637.6 1760.7,2640.4 1765.7,2643.2 1770.8,2645.8 1775.8,2648.3 1780.8,2650.8 1785.9,2653.1 1790.9,2655.4 1795.9,2657.6 1800.9,2659.7 1806.0,2661.8 1811.0,2663.8 1816.0,2665.7 1821.1,2667.6 1826.1,2669.4 1831.1,2671.1 1836.2,2672.8 1841.2,2674.4 1846.2,2676.0 1851.2,2677.6 1856.3,2679.1 1861.3,2680.5 1866.3,2681.9 1871.4,2683.3 1876.4,2684.6 1881.4,2685.9 1886.5,2687.1 1891.5,2688.3 1896.5,2689.5 1901.5,2690.7 1906.6,2691.8 1911.6,2692.9 1916.6,2693.9 1921.7,2694.9 1926.7,2695.9 1931.7,2696.9 1936.8,2697.8 1941.8,2698.8 1946.8,2699.6 1951.8,2700.5 1956.9,2701.4 1961.9,2702.2 1966.9,2703.0 1972.0,2703.8 1977.0,2704.5 1982.0,2705.3 1987.1,2706.0 1992.1,2706.7 1997.1,2707.4 2002.1,2708.1 2007.2,2708.7 2012.2,2709.4 2017.2,2710.0 2022.3,2710.6 2027.3,2711.2 2032.3,2711.8 2037.4,2712.4 2042.4,2712.9 2047.4,2713.5 2052.4,2714.0 2057.5,2714.5 2062.5,2715.0 2067.5,2715.5 2072.6,2716.0 2077.6,2716.5 2082.6,2716.9 2087.7,2717.4 2092.7,2717.9 2097.7,2718.3 2102.7,2718.7 2107.8,2719.1 2112.8,2719.5 2117.8,2719.9 2122.9,2720.3 2127.9,2720.7 2132.9,2721.1 2138.0,2721.5 2143.0,2721.8 2148.0,2722.2 2153.0,2722.5 2158.1,2722.9 2163.1,2723.2 2168.1,2723.5 2173.2,2723.9 2178.2,2724.2 2183.2,2724.5 2188.3,2724.8 2193.3,2725.1 2198.3,2725.4 2203.3,2725.7 2203.3,2752.1"/>
<polyline fill="none" stroke="#0505f2" stroke-width="9" stroke-linecap="round" stroke-linejoin="round" stroke-dasharray="37 57" stroke-dashoffset="-8" points="598.4,2882.7 600.0,2872.0 604.6,2871.7 609.2,2871.3 613.8,2870.9 618.3,2870.6 622.9,2870.2 627.5,2869.8 632.1,2869.4 636.7,2869.0 641.2,2868.6 645.8,2868.2 650.4,2867.8 655.0,2867.3 659.6,2866.9 664.2,2866.4 668.8,2866.0 673.3,2865.5 677.9,2865.1 682.5,2864.6 687.1,2864.1 691.7,2863.6 696.2,2863.1 700.8,2862.6 705.4,2862.2 710.0,2861.6 714.6,2861.1 719.2,2860.6 723.8,2860.1 728.3,2859.6 732.9,2859.1 737.5,2858.6 742.1,2858.0 746.7,2857.5 751.2,2856.9 755.8,2856.3 760.4,2855.7 765.0,2855.1 769.6,2854.5 774.2,2853.9 778.8,2853.2 783.3,2852.5 787.9,2851.8 792.5,2851.1 797.1,2850.3 801.7,2849.5 806.2,2848.7 810.8,2847.8 815.4,2846.9 820.0,2845.9 824.6,2844.9 829.2,2843.9 833.8,2842.8 838.3,2841.7 842.9,2840.5 847.5,2839.4 852.1,2838.1 856.7,2836.9 861.2,2835.6 865.8,2834.3 870.4,2833.0 875.0,2831.6 879.6,2830.2 884.2,2828.8 888.8,2827.4 893.3,2825.9 897.9,2824.4 902.5,2822.9 907.1,2821.3 911.7,2819.7 916.2,2818.1 920.8,2816.4 925.4,2814.6 930.0,2812.8 934.6,2811.0 939.2,2809.0 943.8,2807.0 948.3,2804.9 952.9,2802.7 957.5,2800.4 962.1,2798.1 966.7,2795.6 971.2,2793.0 975.8,2790.3 980.4,2787.5 985.0,2784.2 989.6,2780.6 994.2,2776.7 998.8,2772.5 1003.3,2768.0 1007.9,2763.3 1012.5,2758.5 1017.1,2753.5 1021.7,2748.5 1026.2,2743.4 1030.8,2738.3 1035.4,2733.2 1040.0,2728.2 1044.6,2723.3 1049.2,2718.5 1053.8,2713.8 1058.3,2709.1 1062.9,2704.5 1067.5,2699.8 1072.1,2695.1 1076.7,2690.3 1081.2,2685.4 1085.8,2680.3 1090.4,2675.1 1095.0,2669.7 1099.6,2664.0 1104.2,2658.1 1108.8,2651.9 1113.3,2645.2 1117.9,2638.2 1122.5,2630.7 1127.1,2622.9 1131.7,2614.9 1136.2,2606.7 1140.8,2598.3 1145.4,2589.7 1150.0,2581.2 1154.6,2572.6 1159.2,2564.0 1163.8,2555.6 1168.3,2547.1 1172.9,2538.5 1177.5,2529.7 1182.1,2520.8 1186.7,2511.9 1191.2,2503.0 1195.8,2494.1 1200.4,2485.3 1205.0,2476.6 1209.6,2468.1 1214.2,2459.6 1218.8,2451.0 1223.3,2442.5 1227.9,2434.0 1232.5,2425.6 1237.1,2417.4 1241.7,2409.2 1246.2,2401.3 1250.8,2393.5 1255.4,2386.0 1260.0,2378.7 1264.6,2371.2 1269.2,2363.7 1273.8,2356.3 1278.3,2349.1 1282.9,2342.3 1287.5,2335.9 1292.1,2330.2 1296.7,2325.1 1301.2,2320.9 1305.8,2316.9 1310.4,2312.8 1315.0,2308.9 1319.6,2305.3 1324.2,2301.9 1328.8,2299.1 1333.3,2296.7 1337.9,2295.0 1342.5,2294.1 1347.1,2294.1 1351.7,2294.5 1356.2,2295.4 1360.8,2296.7 1365.4,2298.3 1370.0,2300.1 1374.6,2302.2 1379.2,2304.3 1383.8,2306.6 1388.3,2309.5 1392.9,2313.4 1397.5,2317.9 1402.1,2323.2 1406.7,2329.0 1411.2,2335.2 1415.8,2341.8 1420.4,2348.6 1425.0,2355.6 1429.6,2362.5 1434.2,2369.5 1438.8,2376.2 1443.3,2382.8 1447.9,2389.7 1452.5,2396.8 1457.1,2404.1 1461.7,2411.5 1466.2,2419.2 1470.8,2426.9 1475.4,2434.8 1480.0,2442.8 1484.6,2450.8 1489.2,2458.8 1493.8,2467.2 1498.3,2475.9 1502.9,2484.7 1507.5,2493.7 1512.1,2502.6 1516.7,2511.5 1521.2,2520.3 1525.8,2528.8 1530.4,2537.0 1535.0,2544.9 1539.6,2552.7 1544.2,2560.3 1548.8,2567.8 1553.3,2575.2 1557.9,2582.5 1562.5,2589.7 1567.1,2596.8 1571.7,2603.9 1576.2,2610.8 1580.8,2617.8 1585.4,2624.6 1590.0,2631.4 1594.6,2638.1 1599.2,2644.8 1603.8,2651.4 1608.3,2657.9 1612.9,2664.3 1617.5,2670.6 1622.1,2676.9 1626.7,2683.0 1631.2,2689.0 1635.8,2695.0 1640.4,2701.1 1645.0,2707.2 1649.6,2713.3 1654.2,2719.4 1658.8,2725.4 1663.3,2731.3 1667.9,2737.1 1672.5,2742.7 1677.1,2748.1 1681.7,2753.2 1686.2,2758.1 1690.8,2762.7 1695.4,2766.9 1700.0,2770.8 1704.6,2774.5 1709.2,2778.1 1713.8,2781.6 1718.3,2785.0 1722.9,2788.2 1727.5,2791.4 1732.1,2794.4 1736.7,2797.3 1741.2,2800.1 1745.8,2802.8 1750.4,2805.3 1755.0,2807.7 1759.6,2809.9 1764.2,2811.9 1768.8,2813.9 1773.3,2815.6 1777.9,2817.3 1782.5,2818.9 1787.1,2820.5 1791.7,2821.9 1796.2,2823.4 1800.8,2824.8 1805.4,2826.1 1810.0,2827.4 1814.6,2828.6 1819.2,2829.7 1823.8,2830.8 1828.3,2831.8 1832.9,2832.8 1837.5,2833.8 1842.1,2834.6 1846.7,2835.4 1851.2,2836.2 1855.8,2836.9 1860.4,2837.7 1865.0,2838.4 1869.6,2839.2 1874.2,2839.9 1878.8,2840.6 1883.3,2841.3 1887.9,2842.0 1892.5,2842.6 1897.1,2843.3 1901.7,2843.9 1906.2,2844.5 1910.8,2845.1 1915.4,2845.7 1920.0,2846.2 1924.6,2846.7 1929.2,2847.2 1933.8,2847.6 1938.3,2848.0 1942.9,2848.4 1947.5,2848.8 1952.1,2849.1 1956.7,2849.3 1961.2,2849.6 1965.8,2849.8 1970.4,2849.9 1975.0,2850.0 1985.0,2872.0"/>
<polyline fill="none" stroke="#0505f2" stroke-width="8.5" stroke-linejoin="miter" points="598.4,2882.7 598.4,2857.3 603.4,2857.0 608.5,2856.8 613.5,2856.5 618.5,2856.2 623.6,2855.9 628.6,2855.5 633.6,2855.2 638.7,2854.9 643.7,2854.6 648.7,2854.2 653.7,2853.9 658.8,2853.5 663.8,2853.2 668.8,2852.8 673.9,2852.4 678.9,2852.0 683.9,2851.6 689.0,2851.2 694.0,2850.8 699.0,2850.4 704.0,2850.0 709.1,2849.6 714.1,2849.1 719.1,2848.6 724.2,2848.2 729.2,2847.7 734.2,2847.2 739.3,2846.7 744.3,2846.2 749.3,2845.7 754.3,2845.1 759.4,2844.6 764.4,2844.0 769.4,2843.4 774.5,2842.8 779.5,2842.2 784.5,2841.6 789.6,2841.0 794.6,2840.3 799.6,2839.6 804.6,2839.0 809.7,2838.3 814.7,2837.5 819.7,2836.8 824.8,2836.0 829.8,2835.2 834.8,2834.4 839.9,2833.6 844.9,2832.8 849.9,2831.9 854.9,2831.0 860.0,2830.1 865.0,2829.1 870.0,2828.1 875.1,2827.1 880.1,2826.1 885.1,2825.0 890.2,2823.9 895.2,2822.8 900.2,2821.6 905.2,2820.4 910.3,2819.2 915.3,2817.9 920.3,2816.6 925.4,2815.3 930.4,2813.9 935.4,2812.4 940.5,2811.0 945.5,2809.4 950.5,2807.8 955.5,2806.2 960.6,2804.5 965.6,2802.8 970.6,2801.0 975.7,2799.1 980.7,2797.2 985.7,2795.2 990.8,2793.1 995.8,2790.9 1000.8,2788.7 1005.8,2786.4 1010.9,2784.0 1015.9,2781.6 1020.9,2779.0 1026.0,2776.3 1031.0,2773.6 1036.0,2770.7 1041.1,2767.7 1046.1,2764.7 1051.1,2761.5 1056.1,2758.1 1061.2,2754.7 1066.2,2751.1 1071.2,2747.3 1076.3,2743.4 1081.3,2739.4 1086.3,2735.2 1091.4,2730.8 1096.4,2726.2 1101.4,2721.5 1106.4,2716.5 1111.5,2711.4 1116.5,2706.0 1121.5,2700.4 1126.6,2694.6 1131.6,2688.5 1136.6,2682.2 1141.7,2675.6 1146.7,2668.8 1151.7,2661.6 1156.7,2654.2 1161.8,2646.4 1166.8,2638.4 1171.8,2630.0 1176.9,2621.3 1181.9,2612.3 1186.9,2602.9 1192.0,2593.1 1197.0,2583.1 1202.0,2572.6 1207.0,2561.8 1212.1,2550.7 1217.1,2539.3 1222.1,2527.5 1227.2,2515.5 1232.2,2503.1 1237.2,2490.6 1242.3,2477.8 1247.3,2464.8 1252.3,2451.8 1257.3,2438.7 1262.4,2425.7 1267.4,2412.7 1272.4,2399.9 1277.5,2387.4 1282.5,2375.3 1287.5,2363.7 1292.6,2352.7 1297.6,2342.4 1302.6,2332.9 1307.6,2324.4 1312.7,2316.9 1317.7,2310.5 1322.7,2305.3 1327.8,2301.5 1332.8,2299.0 1337.8,2297.8 1342.9,2298.1 1347.9,2299.7 1352.9,2302.7 1357.9,2307.1 1363.0,2312.7 1368.0,2319.5 1373.0,2327.4 1378.1,2336.3 1383.1,2346.1 1388.1,2356.7 1393.2,2367.9 1398.2,2379.7 1403.2,2392.0 1408.2,2404.6 1413.3,2417.4 1418.3,2430.5 1423.3,2443.5 1428.4,2456.6 1433.4,2469.6 1438.4,2482.5 1443.5,2495.2 1448.5,2507.7 1453.5,2519.9 1458.5,2531.9 1463.6,2543.5 1468.6,2554.9 1473.6,2565.9 1478.7,2576.5 1483.7,2586.8 1488.7,2596.8 1493.8,2606.4 1498.8,2615.6 1503.8,2624.5 1508.8,2633.1 1513.9,2641.4 1518.9,2649.3 1523.9,2656.9 1529.0,2664.3 1534.0,2671.3 1539.0,2678.1 1544.1,2684.6 1549.1,2690.8 1554.1,2696.8 1559.1,2702.5 1564.2,2708.0 1569.2,2713.3 1574.2,2718.4 1579.3,2723.2 1584.3,2727.9 1589.3,2732.4 1594.4,2736.7 1599.4,2740.9 1604.4,2744.9 1609.4,2748.7 1614.5,2752.4 1619.5,2756.0 1624.5,2759.4 1629.6,2762.6 1634.6,2765.8 1639.6,2768.8 1644.7,2771.8 1649.7,2774.6 1654.7,2777.3 1659.7,2779.9 1664.8,2782.5 1669.8,2784.9 1674.8,2787.3 1679.9,2789.5 1684.9,2791.7 1689.9,2793.9 1695.0,2795.9 1700.0,2797.9 1705.0,2799.8 1710.0,2801.6 1715.1,2803.4 1720.1,2805.1 1725.1,2806.8 1730.2,2808.4 1735.2,2810.0 1740.2,2811.5 1745.3,2813.0 1750.3,2814.4 1755.3,2815.8 1760.3,2817.1 1765.4,2818.4 1770.4,2819.7 1775.4,2820.9 1780.5,2822.1 1785.5,2823.2 1790.5,2824.3 1795.6,2825.4 1800.6,2826.5 1805.6,2827.5 1810.6,2828.5 1815.7,2829.5 1820.7,2830.4 1825.7,2831.3 1830.8,2832.2 1835.8,2833.1 1840.8,2833.9 1845.9,2834.7 1850.9,2835.5 1855.9,2836.3 1860.9,2837.1 1866.0,2837.8 1871.0,2838.5 1876.0,2839.2 1881.1,2839.9 1886.1,2840.6 1891.1,2841.2 1896.2,2841.8 1901.2,2842.5 1906.2,2843.1 1911.2,2843.6 1916.3,2844.2 1921.3,2844.8 1926.3,2845.3 1931.4,2845.9 1936.4,2846.4 1941.4,2846.9 1946.5,2847.4 1951.5,2847.9 1956.5,2848.4 1961.5,2848.8 1966.6,2849.3 1971.6,2849.7 1976.6,2850.1 1981.7,2850.6 1986.7,2851.0 1991.7,2851.4 1996.8,2851.8 2001.8,2852.2 2006.8,2852.6 2011.8,2852.9 2016.9,2853.3 2021.9,2853.7 2026.9,2854.0 2032.0,2854.4 2037.0,2854.7 2042.0,2855.0 2047.1,2855.3 2052.1,2855.7 2057.1,2856.0 2062.1,2856.3 2067.2,2856.6 2072.2,2856.9 2077.2,2857.1 2082.3,2857.4 2087.3,2857.7 2092.3,2858.0 2097.4,2858.2 2102.4,2858.5 2107.4,2858.8 2107.4,2882.7"/>
<polyline fill="none" stroke="#08f6f8" stroke-width="9" stroke-linecap="round" stroke-linejoin="round" stroke-dasharray="37 57" stroke-dashoffset="-8" points="502.5,3013.4 502.5,3001.4 507.2,3001.2 511.9,3001.1 516.6,3000.9 521.4,3000.7 526.1,3000.5 530.8,3000.3 535.5,3000.1 540.2,2999.9 545.0,2999.7 549.7,2999.5 554.4,2999.3 559.1,2999.0 563.8,2998.8 568.6,2998.6 573.3,2998.3 578.0,2998.1 582.7,2997.8 587.4,2997.6 592.2,2997.3 596.9,2997.0 601.6,2996.7 606.3,2996.4 611.0,2996.1 615.8,2995.8 620.5,2995.5 625.2,2995.2 629.9,2994.9 634.6,2994.5 639.4,2994.2 644.1,2993.8 648.8,2993.5 653.5,2993.1 658.2,2992.7 663.0,2992.3 667.7,2991.9 672.4,2991.5 677.1,2991.1 681.8,2990.6 686.6,2990.2 691.3,2989.7 696.0,2989.2 700.7,2988.7 705.4,2988.2 710.2,2987.7 714.9,2987.2 719.6,2986.6 724.3,2986.1 729.0,2985.5 733.8,2984.9 738.5,2984.3 743.2,2983.6 747.9,2983.0 752.6,2982.3 757.4,2981.6 762.1,2980.9 766.8,2980.1 771.5,2979.4 776.2,2978.6 781.0,2977.8 785.7,2976.9 790.4,2976.0 795.1,2975.2 799.8,2974.2 804.6,2973.3 809.3,2972.3 814.0,2971.3 818.7,2970.2 823.4,2969.1 828.2,2968.0 832.9,2966.9 837.6,2965.7 842.3,2964.4 847.0,2963.2 851.8,2961.8 856.5,2960.5 861.2,2959.1 865.9,2957.6 870.6,2956.1 875.4,2954.5 880.1,2952.9 884.8,2951.2 889.5,2949.5 894.2,2947.7 899.0,2945.8 903.7,2943.9 908.4,2941.9 913.1,2939.9 917.8,2937.7 922.6,2935.5 927.3,2933.2 932.0,2930.8 936.7,2928.4 941.4,2925.8 946.2,2923.1 950.9,2920.4 955.6,2917.6 960.3,2914.6 965.0,2911.5 969.8,2908.4 974.5,2905.1 979.2,2901.7 983.9,2898.1 988.6,2894.5 993.4,2890.7 998.1,2886.7 1002.8,2882.7 1007.5,2878.4 1012.2,2874.1 1017.0,2869.5 1021.7,2864.9 1026.4,2860.0 1031.1,2855.0 1035.8,2849.8 1040.6,2844.4 1045.3,2838.9 1050.0,2833.1 1054.7,2827.2 1059.4,2821.1 1064.2,2814.8 1068.9,2808.3 1073.6,2801.6 1078.3,2794.8 1083.0,2787.7 1087.8,2780.5 1092.5,2773.0 1097.2,2765.4 1101.9,2757.6 1106.6,2749.6 1111.4,2741.4 1116.1,2733.1 1120.8,2724.7 1125.5,2716.1 1130.2,2707.4 1135.0,2698.6 1139.7,2689.8 1144.4,2680.8 1149.1,2671.9 1153.8,2662.9 1158.6,2653.9 1163.3,2645.0 1168.0,2636.2 1172.7,2627.4 1177.4,2618.8 1182.2,2610.4 1186.9,2602.3 1191.6,2594.3 1196.3,2586.7 1201.0,2579.4 1205.8,2572.5 1210.5,2566.0 1215.2,2560.0 1219.9,2554.5 1224.6,2549.5 1229.4,2545.0 1234.1,2541.1 1238.8,2537.9 1243.5,2535.3 1248.2,2533.3 1253.0,2532.1 1257.7,2531.5 1262.4,2531.5 1267.1,2532.3 1271.8,2533.7 1276.6,2535.8 1281.3,2538.6 1286.0,2542.0 1290.7,2546.0 1295.4,2550.6 1300.2,2555.7 1304.9,2561.4 1309.6,2567.5 1314.3,2574.1 1319.0,2581.1 1323.8,2588.5 1328.5,2596.2 1333.2,2604.2 1337.9,2612.4 1342.6,2620.9 1347.4,2629.5 1352.1,2638.3 1356.8,2647.1 1361.5,2656.1 1366.2,2665.0 1371.0,2674.0 1375.7,2683.0 1380.4,2691.9 1385.1,2700.7 1389.8,2709.5 1394.6,2718.2 1399.3,2726.7 1404.0,2735.1 1408.7,2743.4 1413.4,2751.5 1418.2,2759.4 1422.9,2767.2 1427.6,2774.8 1432.3,2782.2 1437.0,2789.4 1441.8,2796.4 1446.5,2803.2 1451.2,2809.9 1455.9,2816.3 1460.6,2822.6 1465.4,2828.6 1470.1,2834.5 1474.8,2840.2 1479.5,2845.7 1484.2,2851.0 1489.0,2856.2 1493.7,2861.2 1498.4,2866.0 1503.1,2870.6 1507.8,2875.1 1512.6,2879.5 1517.3,2883.6 1522.0,2887.7 1526.7,2891.6 1531.4,2895.4 1536.2,2899.0 1540.9,2902.5 1545.6,2905.9 1550.3,2909.1 1555.0,2912.3 1559.8,2915.3 1564.5,2918.2 1569.2,2921.1 1573.9,2923.8 1578.6,2926.4 1583.4,2929.0 1588.1,2931.4 1592.8,2933.8 1597.5,2936.0 1602.2,2938.2 1607.0,2940.4 1611.7,2942.4 1616.4,2944.4 1621.1,2946.3 1625.8,2948.1 1630.6,2949.9 1635.3,2951.6 1640.0,2953.3 1644.7,2954.9 1649.4,2956.5 1654.2,2958.0 1658.9,2959.4 1663.6,2960.8 1668.3,2962.2 1673.0,2963.1 1677.8,2964.0 1682.5,2964.9 1687.2,2965.8 1691.9,2966.7 1696.6,2967.5 1701.4,2968.3 1706.1,2969.1 1710.8,2969.8 1715.5,2970.6 1720.2,2971.3 1725.0,2972.0 1729.7,2972.7 1734.4,2973.3 1739.1,2974.0 1743.8,2974.6 1748.6,2975.2 1753.3,2975.8 1758.0,2976.4 1762.7,2977.0 1767.4,2977.6 1772.2,2978.1 1776.9,2978.6 1781.6,2979.2 1786.3,2979.7 1791.0,2980.2 1795.8,2980.6 1800.5,2981.1 1805.2,2981.6 1809.9,2982.0 1814.6,2982.5 1819.4,2982.9 1824.1,2983.3 1828.8,2983.7 1833.5,2984.1 1838.2,2984.5 1843.0,2984.9 1847.7,2985.3 1852.4,2985.6 1857.1,2986.0 1861.8,2986.4 1866.6,2986.7 1871.3,2987.0 1876.0,2987.4 1880.7,2987.7 1885.4,2988.0 1890.2,2988.3 1894.9,2988.6 1899.6,2988.9 1904.3,2989.2 1909.0,2989.5 1913.8,2989.8 1918.5,2990.1 1928.5,3012.1"/>
<polyline fill="none" stroke="#08f6f8" stroke-width="8.5" stroke-linejoin="miter" points="502.5,3013.4 502.5,2992.4 507.5,2992.2 512.5,2991.9 517.6,2991.7 522.6,2991.5 527.6,2991.2 532.7,2991.0 537.7,2990.7 542.7,2990.5 547.7,2990.2 552.8,2989.9 557.8,2989.7 562.8,2989.4 567.9,2989.1 572.9,2988.8 577.9,2988.5 583.0,2988.2 588.0,2987.9 593.0,2987.6 598.0,2987.2 603.1,2986.9 608.1,2986.6 613.1,2986.2 618.2,2985.9 623.2,2985.5 628.2,2985.1 633.3,2984.7 638.3,2984.4 643.3,2984.0 648.3,2983.6 653.4,2983.1 658.4,2982.7 663.4,2982.3 668.5,2981.8 673.5,2981.4 678.5,2980.9 683.6,2980.4 688.6,2979.9 693.6,2979.4 698.6,2978.9 703.7,2978.3 708.7,2977.8 713.7,2977.2 718.8,2976.6 723.8,2976.1 728.8,2975.4 733.9,2974.8 738.9,2974.2 743.9,2973.5 748.9,2972.8 754.0,2972.1 759.0,2971.4 764.0,2970.7 769.1,2969.9 774.1,2969.2 779.1,2968.4 784.2,2967.5 789.2,2966.7 794.2,2965.8 799.2,2964.9 804.3,2964.0 809.3,2963.0 814.3,2962.0 819.4,2961.0 824.4,2960.0 829.4,2958.9 834.5,2957.8 839.5,2956.6 844.5,2955.4 849.5,2954.2 854.6,2952.9 859.6,2951.6 864.6,2950.3 869.7,2948.9 874.7,2947.4 879.7,2945.9 884.8,2944.4 889.8,2942.8 894.8,2941.1 899.8,2939.4 904.9,2937.6 909.9,2935.8 914.9,2933.9 920.0,2931.9 925.0,2929.8 930.0,2927.7 935.1,2925.5 940.1,2923.1 945.1,2920.8 950.1,2918.3 955.2,2915.7 960.2,2913.0 965.2,2910.2 970.3,2907.3 975.3,2904.3 980.3,2901.2 985.4,2897.9 990.4,2894.5 995.4,2890.9 1000.4,2887.2 1005.5,2883.4 1010.5,2879.4 1015.5,2875.2 1020.6,2870.8 1025.6,2866.3 1030.6,2861.6 1035.7,2856.6 1040.7,2851.5 1045.7,2846.1 1050.7,2840.5 1055.8,2834.7 1060.8,2828.6 1065.8,2822.3 1070.9,2815.7 1075.9,2808.8 1080.9,2801.6 1086.0,2794.2 1091.0,2786.5 1096.0,2778.5 1101.0,2770.1 1106.1,2761.5 1111.1,2752.6 1116.1,2743.4 1121.2,2733.8 1126.2,2724.1 1131.2,2714.0 1136.3,2703.7 1141.3,2693.2 1146.3,2682.5 1151.3,2671.6 1156.4,2660.6 1161.4,2649.6 1166.4,2638.6 1171.5,2627.6 1176.5,2616.8 1181.5,2606.2 1186.6,2595.9 1191.6,2586.0 1196.6,2576.5 1201.6,2567.7 1206.7,2559.6 1211.7,2552.3 1216.7,2545.8 1221.8,2540.4 1226.8,2535.9 1231.8,2532.6 1236.9,2530.4 1241.9,2529.5 1246.9,2529.7 1251.9,2531.1 1257.0,2533.7 1262.0,2537.4 1267.0,2542.3 1272.1,2548.1 1277.1,2554.9 1282.1,2562.5 1287.2,2570.9 1292.2,2579.9 1297.2,2589.5 1302.2,2599.6 1307.3,2610.0 1312.3,2620.7 1317.3,2631.6 1322.4,2642.6 1327.4,2653.7 1332.4,2664.7 1337.5,2675.6 1342.5,2686.4 1347.5,2697.1 1352.5,2707.5 1357.6,2717.7 1362.6,2727.7 1367.6,2737.4 1372.7,2746.8 1377.7,2755.9 1382.7,2764.7 1387.8,2773.2 1392.8,2781.4 1397.8,2789.4 1402.8,2797.0 1407.9,2804.3 1412.9,2811.4 1417.9,2818.1 1423.0,2824.6 1428.0,2830.9 1433.0,2836.9 1438.1,2842.6 1443.1,2848.1 1448.1,2853.4 1453.1,2858.5 1458.2,2863.3 1463.2,2868.0 1468.2,2872.5 1473.3,2876.8 1478.3,2880.9 1483.3,2884.8 1488.4,2888.6 1493.4,2892.3 1498.4,2895.7 1503.4,2899.1 1508.5,2902.3 1513.5,2905.4 1518.5,2908.4 1523.6,2911.3 1528.6,2914.0 1533.6,2916.7 1538.7,2919.2 1543.7,2921.6 1548.7,2924.0 1553.7,2926.3 1558.8,2928.5 1563.8,2930.6 1568.8,2932.6 1573.9,2934.6 1578.9,2936.5 1583.9,2938.3 1589.0,2940.0 1594.0,2941.7 1599.0,2943.4 1604.0,2945.0 1609.1,2946.5 1614.1,2948.0 1619.1,2949.4 1624.2,2950.8 1629.2,2952.1 1634.2,2953.4 1639.3,2954.7 1644.3,2955.9 1649.3,2957.1 1654.3,2958.2 1659.4,2959.3 1664.4,2960.4 1669.4,2961.4 1674.5,2962.4 1679.5,2963.4 1684.5,2964.3 1689.6,2965.2 1694.6,2966.1 1699.6,2967.0 1704.6,2967.8 1709.7,2968.7 1714.7,2969.4 1719.7,2970.2 1724.8,2971.0 1729.8,2971.7 1734.8,2972.4 1739.9,2973.1 1744.9,2973.8 1749.9,2974.4 1754.9,2975.1 1760.0,2975.7 1765.0,2976.3 1770.0,2976.9 1775.1,2977.4 1780.1,2978.0 1785.1,2978.5 1790.2,2979.1 1795.2,2979.6 1800.2,2980.1 1805.2,2980.6 1810.3,2981.1 1815.3,2981.5 1820.3,2982.0 1825.4,2982.4 1830.4,2982.9 1835.4,2983.3 1840.5,2983.7 1845.5,2984.1 1850.5,2984.5 1855.5,2984.9 1860.6,2985.3 1865.6,2985.6 1870.6,2986.0 1875.7,2986.4 1880.7,2986.7 1885.7,2987.0 1890.8,2987.4 1895.8,2987.7 1900.8,2988.0 1905.8,2988.3 1910.9,2988.6 1915.9,2988.9 1920.9,2989.2 1926.0,2989.5 1931.0,2989.8 1936.0,2990.0 1941.1,2990.3 1946.1,2990.6 1951.1,2990.8 1956.1,2991.1 1961.2,2991.3 1966.2,2991.6 1971.2,2991.8 1976.3,2992.0 1981.3,2992.3 1986.3,2992.5 1991.4,2992.7 1996.4,2992.9 2001.4,2993.1 2006.4,2993.3 2011.5,2993.5 2011.5,3013.4"/>
<polyline fill="none" stroke="#fc06f4" stroke-width="9" stroke-linecap="round" stroke-linejoin="round" stroke-dasharray="37 57" stroke-dashoffset="-8" points="406.5,3144.1 406.5,3133.7 411.2,3133.6 415.9,3133.4 420.6,3133.3 425.3,3133.2 430.0,3133.0 434.7,3132.9 439.4,3132.8 444.1,3132.6 448.8,3132.5 453.5,3132.3 458.2,3132.2 462.9,3132.0 467.6,3131.8 472.2,3131.7 476.9,3131.5 481.6,3131.3 486.3,3131.2 491.0,3131.0 495.7,3130.8 500.4,3130.6 505.1,3130.4 509.8,3130.2 514.5,3130.0 519.2,3129.8 523.9,3129.6 528.6,3129.4 533.3,3129.2 538.0,3129.0 542.6,3128.7 547.3,3128.5 552.0,3128.3 556.7,3128.0 561.4,3127.8 566.1,3127.5 570.8,3127.2 575.5,3127.0 580.2,3126.7 584.9,3126.4 589.6,3126.1 594.3,3125.8 599.0,3125.5 603.7,3125.2 608.4,3124.9 613.0,3124.5 617.7,3124.2 622.4,3123.8 627.1,3123.5 631.8,3123.1 636.5,3122.7 641.2,3122.3 645.9,3121.9 650.6,3121.5 655.3,3121.1 660.0,3120.6 664.7,3120.2 669.4,3119.7 674.1,3119.3 678.8,3118.8 683.4,3118.3 688.1,3117.8 692.8,3117.2 697.5,3116.7 702.2,3116.1 706.9,3115.5 711.6,3114.9 716.3,3114.3 721.0,3113.7 725.7,3113.0 730.4,3112.3 735.1,3111.6 739.8,3110.9 744.5,3110.2 749.2,3109.4 753.8,3108.6 758.5,3107.8 763.2,3107.0 767.9,3106.1 772.6,3105.2 777.3,3104.3 782.0,3103.3 786.7,3102.4 791.4,3101.3 796.1,3100.3 800.8,3099.2 805.5,3098.1 810.2,3096.9 814.9,3095.7 819.6,3094.4 824.2,3093.1 828.9,3091.8 833.6,3090.4 838.3,3089.0 843.0,3087.5 847.7,3086.0 852.4,3084.4 857.1,3082.7 861.8,3081.0 866.5,3079.2 871.2,3077.4 875.9,3075.5 880.6,3073.5 885.3,3071.5 890.0,3069.3 894.6,3067.1 899.3,3064.9 904.0,3062.5 908.7,3060.1 913.4,3057.5 918.1,3054.9 922.8,3052.1 927.5,3049.3 932.2,3046.4 936.9,3043.3 941.6,3040.2 946.3,3036.9 951.0,3033.5 955.7,3030.1 960.4,3026.4 965.0,3022.7 969.7,3018.8 974.4,3014.8 979.1,3010.7 983.8,3006.4 988.5,3002.0 993.2,2997.5 997.9,2992.8 1002.6,2988.0 1007.3,2983.1 1012.0,2978.0 1016.7,2972.8 1021.4,2967.5 1026.1,2962.1 1030.8,2956.5 1035.4,2950.9 1040.1,2945.2 1044.8,2939.3 1049.5,2933.5 1054.2,2927.5 1058.9,2921.6 1063.6,2915.6 1068.3,2909.6 1073.0,2903.7 1077.7,2897.8 1082.4,2892.0 1087.1,2886.3 1091.8,2880.7 1096.5,2875.3 1101.2,2870.1 1105.8,2865.1 1110.5,2860.4 1115.2,2856.0 1119.9,2851.9 1124.6,2848.2 1129.3,2844.9 1134.0,2841.9 1138.7,2839.4 1143.4,2837.4 1148.1,2835.8 1152.8,2834.7 1157.5,2834.2 1162.2,2834.1 1166.9,2834.5 1171.6,2835.4 1176.2,2836.9 1180.9,2838.8 1185.6,2841.1 1190.3,2843.9 1195.0,2847.1 1199.7,2850.7 1204.4,2854.7 1209.1,2859.0 1213.8,2863.7 1218.5,2868.6 1223.2,2873.7 1227.9,2879.0 1232.6,2884.6 1237.3,2890.2 1242.0,2896.0 1246.6,2901.9 1251.3,2907.8 1256.0,2913.8 1260.7,2919.7 1265.4,2925.7 1270.1,2931.7 1274.8,2937.6 1279.5,2943.4 1284.2,2949.1 1288.9,2954.8 1293.6,2960.4 1298.3,2965.8 1303.0,2971.2 1307.7,2976.4 1312.4,2981.5 1317.0,2986.5 1321.7,2991.3 1326.4,2996.1 1331.1,3000.6 1335.8,3005.1 1340.5,3009.4 1345.2,3013.6 1349.9,3017.6 1354.6,3021.5 1359.3,3025.3 1364.0,3029.0 1368.7,3032.5 1373.4,3035.9 1378.1,3039.2 1382.8,3042.4 1387.4,3045.5 1392.1,3048.4 1396.8,3051.3 1401.5,3054.1 1406.2,3056.7 1410.9,3059.3 1415.6,3061.8 1420.3,3064.2 1425.0,3066.5 1429.7,3068.7 1434.4,3070.8 1439.1,3072.9 1443.8,3074.9 1448.5,3076.8 1453.2,3078.7 1457.8,3080.5 1462.5,3082.2 1467.2,3083.9 1471.9,3085.5 1476.6,3087.0 1481.3,3088.5 1486.0,3090.0 1490.7,3091.4 1495.4,3092.7 1500.1,3094.0 1504.8,3095.3 1509.5,3096.5 1514.2,3097.7 1518.9,3098.8 1523.6,3099.9 1528.2,3101.0 1532.9,3101.9 1537.6,3102.8 1542.3,3103.6 1547.0,3104.3 1551.7,3105.1 1556.4,3105.8 1561.1,3106.5 1565.8,3107.2 1570.5,3107.9 1575.2,3108.5 1579.9,3109.1 1584.6,3109.8 1589.3,3110.4 1594.0,3110.9 1598.6,3111.5 1603.3,3112.0 1608.0,3112.6 1612.7,3113.1 1617.4,3113.6 1622.1,3114.1 1626.8,3114.6 1631.5,3115.0 1636.2,3115.5 1640.9,3115.9 1645.6,3116.4 1650.3,3116.8 1655.0,3117.2 1659.7,3117.6 1664.4,3118.0 1669.0,3118.4 1673.7,3118.8 1678.4,3119.1 1683.1,3119.5 1687.8,3119.8 1692.5,3120.2 1697.2,3120.5 1701.9,3120.8 1706.6,3121.1 1711.3,3121.5 1716.0,3121.8 1720.7,3122.1 1725.4,3122.3 1730.1,3122.6 1734.8,3122.9 1739.4,3123.2 1744.1,3123.4 1748.8,3123.7 1753.5,3123.9 1758.2,3124.2 1762.9,3124.4 1767.6,3124.7 1772.3,3124.9 1777.0,3125.1 1781.7,3125.4 1786.4,3125.6 1791.1,3125.8 1795.8,3126.0 1800.5,3126.2 1805.2,3126.4 1809.8,3126.6 1814.5,3126.8 1824.5,3148.8"/>
<polyline fill="none" stroke="#fc06f4" stroke-width="8.5" stroke-linejoin="miter" points="406.5,3144.1 406.5,3128.4 411.6,3128.2 416.6,3128.1 421.6,3127.9 426.7,3127.8 431.7,3127.6 436.7,3127.4 441.8,3127.3 446.8,3127.1 451.8,3126.9 456.8,3126.7 461.9,3126.5 466.9,3126.3 471.9,3126.1 477.0,3125.9 482.0,3125.7 487.0,3125.5 492.1,3125.3 497.1,3125.1 502.1,3124.9 507.1,3124.6 512.2,3124.4 517.2,3124.2 522.2,3123.9 527.3,3123.7 532.3,3123.4 537.3,3123.2 542.4,3122.9 547.4,3122.6 552.4,3122.4 557.4,3122.1 562.5,3121.8 567.5,3121.5 572.5,3121.2 577.6,3120.9 582.6,3120.5 587.6,3120.2 592.7,3119.9 597.7,3119.5 602.7,3119.2 607.7,3118.8 612.8,3118.4 617.8,3118.0 622.8,3117.6 627.9,3117.2 632.9,3116.8 637.9,3116.4 643.0,3116.0 648.0,3115.5 653.0,3115.1 658.0,3114.6 663.1,3114.1 668.1,3113.6 673.1,3113.1 678.2,3112.6 683.2,3112.0 688.2,3111.4 693.3,3110.9 698.3,3110.3 703.3,3109.7 708.3,3109.0 713.4,3108.4 718.4,3107.7 723.4,3107.0 728.5,3106.3 733.5,3105.6 738.5,3104.8 743.6,3104.0 748.6,3103.2 753.6,3102.4 758.6,3101.6 763.7,3100.7 768.7,3099.8 773.7,3098.8 778.8,3097.8 783.8,3096.8 788.8,3095.8 793.9,3094.7 798.9,3093.6 803.9,3092.4 808.9,3091.2 814.0,3090.0 819.0,3088.7 824.0,3087.4 829.1,3086.0 834.1,3084.5 839.1,3083.0 844.2,3081.5 849.2,3079.9 854.2,3078.2 859.2,3076.5 864.3,3074.7 869.3,3072.9 874.3,3070.9 879.4,3068.9 884.4,3066.8 889.4,3064.6 894.5,3062.4 899.5,3060.0 904.5,3057.6 909.5,3055.0 914.6,3052.4 919.6,3049.6 924.6,3046.7 929.7,3043.7 934.7,3040.6 939.7,3037.3 944.8,3034.0 949.8,3030.4 954.8,3026.8 959.8,3023.0 964.9,3019.0 969.9,3014.9 974.9,3010.6 980.0,3006.1 985.0,3001.5 990.0,2996.7 995.1,2991.7 1000.1,2986.5 1005.1,2981.2 1010.1,2975.7 1015.2,2970.0 1020.2,2964.1 1025.2,2958.1 1030.3,2951.9 1035.3,2945.5 1040.3,2939.0 1045.4,2932.4 1050.4,2925.7 1055.4,2918.9 1060.4,2912.1 1065.5,2905.3 1070.5,2898.4 1075.5,2891.7 1080.6,2885.0 1085.6,2878.5 1090.6,2872.2 1095.7,2866.2 1100.7,2860.5 1105.7,2855.1 1110.7,2850.2 1115.8,2845.8 1120.8,2841.9 1125.8,2838.6 1130.9,2836.0 1135.9,2834.0 1140.9,2832.7 1146.0,2832.1 1151.0,2832.2 1156.0,2833.1 1161.0,2834.6 1166.1,2836.9 1171.1,2839.8 1176.1,2843.3 1181.2,2847.4 1186.2,2852.0 1191.2,2857.0 1196.3,2862.5 1201.3,2868.4 1206.3,2874.5 1211.3,2880.9 1216.4,2887.4 1221.4,2894.1 1226.4,2900.9 1231.5,2907.8 1236.5,2914.6 1241.5,2921.4 1246.6,2928.2 1251.6,2934.9 1256.6,2941.4 1261.6,2947.9 1266.7,2954.2 1271.7,2960.3 1276.7,2966.3 1281.8,2972.1 1286.8,2977.7 1291.8,2983.2 1296.9,2988.5 1301.9,2993.6 1306.9,2998.5 1311.9,3003.2 1317.0,3007.8 1322.0,3012.2 1327.0,3016.4 1332.1,3020.5 1337.1,3024.4 1342.1,3028.1 1347.2,3031.8 1352.2,3035.2 1357.2,3038.6 1362.2,3041.8 1367.3,3044.8 1372.3,3047.8 1377.3,3050.6 1382.4,3053.3 1387.4,3056.0 1392.4,3058.5 1397.5,3060.9 1402.5,3063.2 1407.5,3065.4 1412.5,3067.6 1417.6,3069.7 1422.6,3071.6 1427.6,3073.5 1432.7,3075.4 1437.7,3077.2 1442.7,3078.9 1447.8,3080.5 1452.8,3082.1 1457.8,3083.6 1462.8,3085.1 1467.9,3086.5 1472.9,3087.8 1477.9,3089.2 1483.0,3090.4 1488.0,3091.7 1493.0,3092.8 1498.1,3094.0 1503.1,3095.1 1508.1,3096.2 1513.1,3097.2 1518.2,3098.2 1523.2,3099.2 1528.2,3100.1 1533.3,3101.0 1538.3,3101.9 1543.3,3102.7 1548.4,3103.5 1553.4,3104.3 1558.4,3105.1 1563.4,3105.9 1568.5,3106.6 1573.5,3107.3 1578.5,3108.0 1583.6,3108.6 1588.6,3109.3 1593.6,3109.9 1598.7,3110.5 1603.7,3111.1 1608.7,3111.7 1613.7,3112.2 1618.8,3112.7 1623.8,3113.3 1628.8,3113.8 1633.9,3114.3 1638.9,3114.8 1643.9,3115.2 1649.0,3115.7 1654.0,3116.1 1659.0,3116.6 1664.0,3117.0 1669.1,3117.4 1674.1,3117.8 1679.1,3118.2 1684.2,3118.6 1689.2,3118.9 1694.2,3119.3 1699.3,3119.6 1704.3,3120.0 1709.3,3120.3 1714.3,3120.6 1719.4,3121.0 1724.4,3121.3 1729.4,3121.6 1734.5,3121.9 1739.5,3122.2 1744.5,3122.5 1749.6,3122.7 1754.6,3123.0 1759.6,3123.3 1764.6,3123.5 1769.7,3123.8 1774.7,3124.0 1779.7,3124.3 1784.8,3124.5 1789.8,3124.7 1794.8,3125.0 1799.9,3125.2 1804.9,3125.4 1809.9,3125.6 1814.9,3125.8 1820.0,3126.0 1825.0,3126.2 1830.0,3126.4 1835.1,3126.6 1840.1,3126.8 1845.1,3127.0 1850.2,3127.1 1855.2,3127.3 1860.2,3127.5 1865.2,3127.7 1870.3,3127.8 1875.3,3128.0 1880.3,3128.1 1885.4,3128.3 1890.4,3128.5 1895.4,3128.6 1900.5,3128.8 1905.5,3128.9 1910.5,3129.0 1915.5,3129.2 1915.5,3144.1"/>
<line x1="361.5" y1="2475" x2="361.5" y2="3205.2" stroke="#111" stroke-width="3.5"/>
<line x1="359.8" y1="3203.5" x2="1869" y2="3203.5" stroke="#111" stroke-width="3.5"/>
<line x1="1868" y1="3203.5" x2="2346" y2="2551" stroke="#222" stroke-width="2.4"/>
<line x1="344.5" y1="3203.5" x2="361.5" y2="3203.5" stroke="#111" stroke-width="3.5"/>
<text x="333.5" y="3228.0" font-size="76" font-family="Liberation Sans, Arial, sans-serif" fill="#000" text-anchor="end">0.0</text>
<line x1="344.5" y1="3058.2" x2="361.5" y2="3058.2" stroke="#111" stroke-width="3.5"/>
<text x="333.5" y="3082.7" font-size="76" font-family="Liberation Sans, Arial, sans-serif" fill="#000" text-anchor="end">0.1</text>
<line x1="344.5" y1="2912.9" x2="361.5" y2="2912.9" stroke="#111" stroke-width="3.5"/>
<text x="333.5" y="2937.4" font-size="76" font-family="Liberation Sans, Arial, sans-serif" fill="#000" text-anchor="end">0.2</text>
<line x1="344.5" y1="2767.6" x2="361.5" y2="2767.6" stroke="#111" stroke-width="3.5"/>
<text x="333.5" y="2792.1" font-size="76" font-family="Liberation Sans, Arial, sans-serif" fill="#000" text-anchor="end">0.3</text>
<line x1="344.5" y1="2622.3" x2="361.5" y2="2622.3" stroke="#111" stroke-width="3.5"/>
<text x="333.5" y="2646.8" font-size="76" font-family="Liberation Sans, Arial, sans-serif" fill="#000" text-anchor="end">0.4</text>
<line x1="344.5" y1="2477.0" x2="361.5" y2="2477.0" stroke="#111" stroke-width="3.5"/>
<text x="333.5" y="2501.5" font-size="76" font-family="Liberation Sans, Arial, sans-serif" fill="#000" text-anchor="end">0.5</text>
<line x1="386.6" y1="3203.5" x2="386.6" y2="3213.5" stroke="#111" stroke-width="3"/>
<line x1="436.7" y1="3203.5" x2="436.7" y2="3213.5" stroke="#111" stroke-width="3"/>
<line x1="486.8" y1="3203.5" x2="486.8" y2="3221.5" stroke="#111" stroke-width="3"/>
<text x="486.7500000000001" y="3292.5" font-size="76" font-family="Liberation Sans, Arial, sans-serif" fill="#000" text-anchor="middle">0.48</text>
<line x1="536.9" y1="3203.5" x2="536.9" y2="3213.5" stroke="#111" stroke-width="3"/>
<line x1="587.0" y1="3203.5" x2="587.0" y2="3213.5" stroke="#111" stroke-width="3"/>
<line x1="637.1" y1="3203.5" x2="637.1" y2="3213.5" stroke="#111" stroke-width="3"/>
<line x1="687.2" y1="3203.5" x2="687.2" y2="3213.5" stroke="#111" stroke-width="3"/>
<line x1="737.3" y1="3203.5" x2="737.3" y2="3221.5" stroke="#111" stroke-width="3"/>
<text x="737.2500000000003" y="3292.5" font-size="76" font-family="Liberation Sans, Arial, sans-serif" fill="#000" text-anchor="middle">0.50</text>
<line x1="787.4" y1="3203.5" x2="787.4" y2="3213.5" stroke="#111" stroke-width="3"/>
<line x1="837.5" y1="3203.5" x2="837.5" y2="3213.5" stroke="#111" stroke-width="3"/>
<line x1="887.6" y1="3203.5" x2="887.6" y2="3213.5" stroke="#111" stroke-width="3"/>
<line x1="937.7" y1="3203.5" x2="937.7" y2="3213.5" stroke="#111" stroke-width="3"/>
<line x1="987.8" y1="3203.5" x2="987.8" y2="3221.5" stroke="#111" stroke-width="3"/>
<text x="987.7500000000006" y="3292.5" font-size="76" font-family="Liberation Sans, Arial, sans-serif" fill="#000" text-anchor="middle">0.52</text>
<line x1="1037.9" y1="3203.5" x2="1037.9" y2="3213.5" stroke="#111" stroke-width="3"/>
<line x1="1088.0" y1="3203.5" x2="1088.0" y2="3213.5" stroke="#111" stroke-width="3"/>
<line x1="1138.1" y1="3203.5" x2="1138.1" y2="3213.5" stroke="#111" stroke-width="3"/>
<line x1="1188.2" y1="3203.5" x2="1188.2" y2="3213.5" stroke="#111" stroke-width="3"/>
<line x1="1238.3" y1="3203.5" x2="1238.3" y2="3221.5" stroke="#111" stroke-width="3"/>
<text x="1238.250000000001" y="3292.5" font-size="76" font-family="Liberation Sans, Arial, sans-serif" fill="#000" text-anchor="middle">0.54</text>
<line x1="1288.4" y1="3203.5" x2="1288.4" y2="3213.5" stroke="#111" stroke-width="3"/>
<line x1="1338.4" y1="3203.5" x2="1338.4" y2="3213.5" stroke="#111" stroke-width="3"/>
<line x1="1388.5" y1="3203.5" x2="1388.5" y2="3213.5" stroke="#111" stroke-width="3"/>
<line x1="1438.6" y1="3203.5" x2="1438.6" y2="3213.5" stroke="#111" stroke-width="3"/>
<line x1="1488.7" y1="3203.5" x2="1488.7" y2="3221.5" stroke="#111" stroke-width="3"/>
<text x="1488.7499999999995" y="3292.5" font-size="76" font-family="Liberation Sans, Arial, sans-serif" fill="#000" text-anchor="middle">0.56</text>
<line x1="1538.8" y1="3203.5" x2="1538.8" y2="3213.5" stroke="#111" stroke-width="3"/>
<line x1="1588.9" y1="3203.5" x2="1588.9" y2="3213.5" stroke="#111" stroke-width="3"/>
<line x1="1639.0" y1="3203.5" x2="1639.0" y2="3213.5" stroke="#111" stroke-width="3"/>
<line x1="1689.1" y1="3203.5" x2="1689.1" y2="3213.5" stroke="#111" stroke-width="3"/>
<line x1="1739.2" y1="3203.5" x2="1739.2" y2="3221.5" stroke="#111" stroke-width="3"/>
<text x="1739.2499999999998" y="3292.5" font-size="76" font-family="Liberation Sans, Arial, sans-serif" fill="#000" text-anchor="middle">0.58</text>
<line x1="1789.3" y1="3203.5" x2="1789.3" y2="3213.5" stroke="#111" stroke-width="3"/>
<line x1="1839.4" y1="3203.5" x2="1839.4" y2="3213.5" stroke="#111" stroke-width="3"/>
<line x1="1915.7" y1="3138.5" x2="1926.7" y2="3138.5" stroke="#222" stroke-width="2.4"/>
<text transform="matrix(0.988,-0.156,-0.60,0.80,1932.7,3158.5)" font-size="73" font-family="Liberation Sans, Arial, sans-serif" fill="#000" stroke="#000" stroke-width="0.8">0.2</text>
<line x1="2011.7" y1="3007.5" x2="2022.7" y2="3007.5" stroke="#222" stroke-width="2.4"/>
<text transform="matrix(0.988,-0.156,-0.60,0.80,2028.7,3027.5)" font-size="73" font-family="Liberation Sans, Arial, sans-serif" fill="#000" stroke="#000" stroke-width="0.8">0.4</text>
<line x1="2107.7" y1="2876.5" x2="2118.7" y2="2876.5" stroke="#222" stroke-width="2.4"/>
<text transform="matrix(0.988,-0.156,-0.60,0.80,2124.7,2896.5)" font-size="73" font-family="Liberation Sans, Arial, sans-serif" fill="#000" stroke="#000" stroke-width="0.8">0.6</text>
<line x1="2203.7" y1="2745.5" x2="2214.7" y2="2745.5" stroke="#222" stroke-width="2.4"/>
<text transform="matrix(0.988,-0.156,-0.60,0.80,2220.7,2765.5)" font-size="73" font-family="Liberation Sans, Arial, sans-serif" fill="#000" stroke="#000" stroke-width="0.8">0.8</text>
<line x1="2299.8" y1="2614.5" x2="2310.8" y2="2614.5" stroke="#222" stroke-width="2.4"/>
<text transform="matrix(0.988,-0.156,-0.60,0.80,2316.8,2634.5)" font-size="73" font-family="Liberation Sans, Arial, sans-serif" fill="#000" stroke="#000" stroke-width="0.8">1.0</text>
<text transform="translate(209.5,3120) rotate(-90)" font-size="108" font-family="Liberation Sans, Arial, sans-serif" textLength="544" lengthAdjust="spacingAndGlyphs">Absorption</text>
<text x="893" y="3380" font-size="101" font-family="Liberation Sans, Arial, sans-serif" fill="#000" textLength="440" lengthAdjust="spacingAndGlyphs" >Freq(THz)</text>
<text transform="translate(2079,3238) rotate(-57.1)" font-size="62" fill="#000" textLength="650" lengthAdjust="spacing"><tspan font-family="Liberation Sans, Arial, sans-serif">Film thickness </tspan><tspan font-family="Liberation Serif, Times New Roman, serif" font-style="italic" font-size="68">d</tspan><tspan font-family="Liberation Serif, Times New Roman, serif" font-style="italic" font-size="40" dy="12">s</tspan><tspan font-family="Liberation Sans, Arial, sans-serif" dy="-12">(μm)</tspan></text>
<text x="1092.6" y="3155.3" font-size="59" font-family="Liberation Sans, Arial, sans-serif" fill="#222" textLength="445" lengthAdjust="spacingAndGlyphs"><tspan font-size="46" font-family="Noto Sans CJK SC, WenQuanYi Zen Hei, sans-serif">╳</tspan> 89.2(<tspan font-size="45" font-family="Noto Sans CJK SC, WenQuanYi Zen Hei, sans-serif">╳</tspan>1.5×10<tspan font-size="35" dy="-27">5</tspan><tspan dy="27">)</tspan></text>
<line x1="1289.6" y1="2993.8" x2="1314.2" y2="3066.7" stroke="#fc06f4" stroke-width="2"/>
<polygon points="1322.5,3091.3 1305.7,3069.5 1322.7,3063.8" fill="#fc06f4"/>
<text x="1437.0" y="3033.8" font-size="59" font-family="Liberation Sans, Arial, sans-serif" fill="#222" textLength="445" lengthAdjust="spacingAndGlyphs"><tspan font-size="46" font-family="Noto Sans CJK SC, WenQuanYi Zen Hei, sans-serif">╳</tspan> 69.8(<tspan font-size="45" font-family="Noto Sans CJK SC, WenQuanYi Zen Hei, sans-serif">╳</tspan>1.2×10<tspan font-size="35" dy="-27">5</tspan><tspan dy="27">)</tspan></text>
<line x1="1520.6" y1="2894.6" x2="1569.7" y2="2958.8" stroke="#08f6f8" stroke-width="2"/>
<polygon points="1585.5,2979.5 1562.6,2964.3 1576.9,2953.4" fill="#08f6f8"/>
<text x="1618.7" y="2930.0" font-size="59" font-family="Liberation Sans, Arial, sans-serif" fill="#222" textLength="445" lengthAdjust="spacingAndGlyphs"><tspan font-size="46" font-family="Noto Sans CJK SC, WenQuanYi Zen Hei, sans-serif">╳</tspan> 56.2(<tspan font-size="45" font-family="Noto Sans CJK SC, WenQuanYi Zen Hei, sans-serif">╳</tspan>9.8×10<tspan font-size="35" dy="-27">4</tspan><tspan dy="27">)</tspan></text>
<line x1="1704.6" y1="2790.0" x2="1758.2" y2="2835.6" stroke="#0505f2" stroke-width="2"/>
<polygon points="1778.0,2852.5 1752.4,2842.5 1764.0,2828.8" fill="#0505f2"/>
<text x="1734.0" y="2774.7" font-size="59" font-family="Liberation Sans, Arial, sans-serif" fill="#222" textLength="445" lengthAdjust="spacingAndGlyphs"><tspan font-size="46" font-family="Noto Sans CJK SC, WenQuanYi Zen Hei, sans-serif">╳</tspan> 46.2(<tspan font-size="45" font-family="Noto Sans CJK SC, WenQuanYi Zen Hei, sans-serif">╳</tspan>8.0×10<tspan font-size="35" dy="-27">4</tspan><tspan dy="27">)</tspan></text>
<line x1="1820.0" y1="2656.0" x2="1878.5" y2="2707.3" stroke="#08f808" stroke-width="2"/>
<polygon points="1898.0,2724.5 1872.5,2714.1 1884.4,2700.6" fill="#08f808"/>
<text x="1834.0" y="2641.7" font-size="59" font-family="Liberation Sans, Arial, sans-serif" fill="#222" textLength="445" lengthAdjust="spacingAndGlyphs"><tspan font-size="46" font-family="Noto Sans CJK SC, WenQuanYi Zen Hei, sans-serif">╳</tspan> 38.7(<tspan font-size="45" font-family="Noto Sans CJK SC, WenQuanYi Zen Hei, sans-serif">╳</tspan>6.7×10<tspan font-size="35" dy="-27">4</tspan><tspan dy="27">)</tspan></text>
<line x1="1995.0" y1="2550.6" x2="2046.3" y2="2581.9" stroke="#fd0808" stroke-width="2"/>
<polygon points="2068.5,2595.5 2041.6,2589.6 2051.0,2574.3" fill="#fd0808"/>
</g>
</svg>
</body></html>
